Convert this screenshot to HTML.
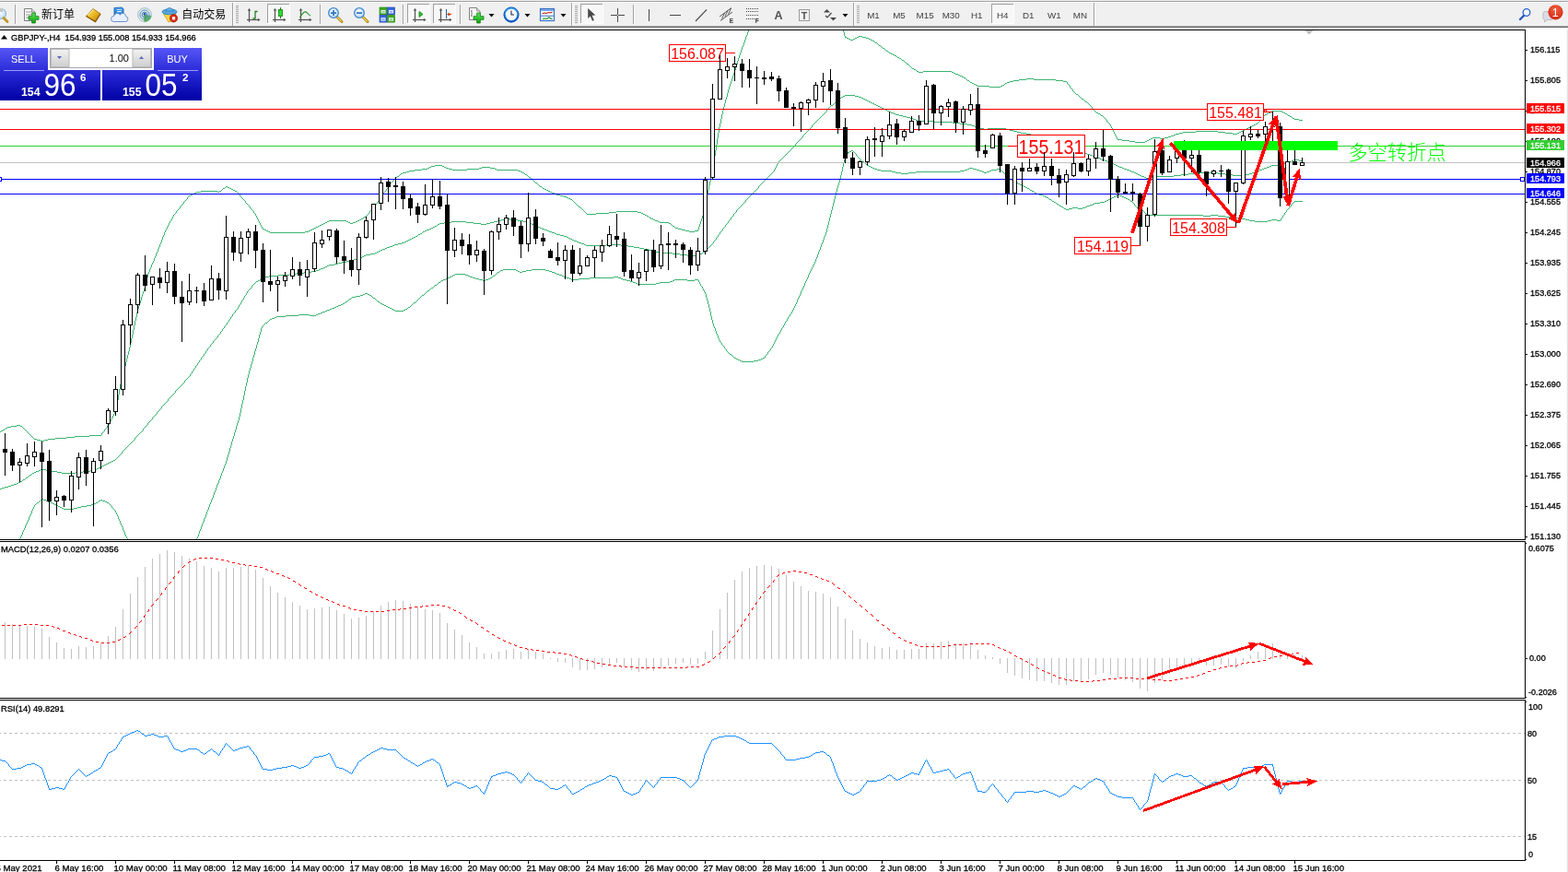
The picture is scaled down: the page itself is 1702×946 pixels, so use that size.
<!DOCTYPE html>
<html lang="zh-CN">
<head>
<meta charset="utf-8">
<title>GBPJPY-,H4</title>
<style>
html,body{margin:0;padding:0;background:#fff;}
body{width:1702px;height:946px;overflow:hidden;position:relative;font-family:"Liberation Sans", "Noto Sans CJK SC", sans-serif;}
svg{position:absolute;left:0;top:0;display:block;}
svg text{font-family:"Liberation Sans", "Noto Sans CJK SC", sans-serif;}
</style>
</head>
<body>
<svg width="1702" height="946" viewBox="0 0 1702 946">
<rect x="0" y="0" width="1702" height="946" fill="#ffffff"/>
<g id="main">
<clipPath id="cm"><rect x="0" y="33" width="1655" height="552"/></clipPath>
<g clip-path="url(#cm)">
<path d="M932 39h4v1h-4zM917 40h2v1h-2zM930 40h2v1h-2zM936 40h4v1h-4zM919 41h2v1h-2zM928 41h2v1h-2zM940 41h3v1h-3zM921 42h2v1h-2zM926 42h2v1h-2zM943 42h2v1h-2zM923 43h3v1h-3zM945 43h2v1h-2zM947 44h2v1h-2zM950 46h2v1h-2zM954 49h2v1h-2zM958 52h2v1h-2zM962 55h2v1h-2zM965 57h2v1h-2zM967 58h2v1h-2zM969 59h2v1h-2zM971 60h2v1h-2zM974 62h2v1h-2zM976 63h2v1h-2zM979 65h2v1h-2zM984 69h2v1h-2zM990 74h2v1h-2zM992 75h2v1h-2zM995 77h2v1h-2zM1002 77h31v1h-31zM997 78h5v1h-5zM1033 78h2v1h-2zM1035 79h2v1h-2zM1037 80h3v1h-3zM1040 81h2v1h-2zM1042 82h2v1h-2zM1044 83h2v1h-2zM1046 84h2v1h-2zM1114 85h8v1h-8zM1106 86h8v1h-8zM1122 86h24v1h-24zM1050 87h2v1h-2zM1100 87h6v1h-6zM1146 87h8v1h-8zM1096 88h4v1h-4zM1154 88h4v1h-4zM1053 89h2v1h-2zM1093 89h3v1h-3zM1055 90h2v1h-2zM1091 90h2v1h-2zM1057 91h2v1h-2zM1059 92h2v1h-2zM1088 92h2v1h-2zM1061 93h13v1h-13zM1086 93h2v1h-2zM1074 94h12v1h-12zM1168 102h2v1h-2zM1174 107h2v1h-2zM1178 110h2v1h-2zM1381 120h10v1h-10zM1379 121h2v1h-2zM1391 121h2v1h-2zM1190 122h2v1h-2zM1377 122h2v1h-2zM1393 122h2v1h-2zM1192 123h2v1h-2zM1375 123h2v1h-2zM1395 123h2v1h-2zM1373 124h2v1h-2zM1195 125h2v1h-2zM1398 125h2v1h-2zM1400 126h2v1h-2zM1403 128h2v1h-2zM1405 129h5v1h-5zM1410 130h4v1h-4zM1363 134h2v1h-2zM1361 135h2v1h-2zM1359 136h2v1h-2zM1357 137h2v1h-2zM1355 138h2v1h-2zM1353 139h2v1h-2zM1351 140h2v1h-2zM1349 141h2v1h-2zM1298 142h24v1h-24zM1347 142h2v1h-2zM1284 143h14v1h-14zM1322 143h8v1h-8zM1345 143h2v1h-2zM1280 144h4v1h-4zM1330 144h8v1h-8zM1343 144h2v1h-2zM1276 145h4v1h-4zM1338 145h5v1h-5zM1274 146h2v1h-2zM1271 147h3v1h-3zM1268 148h3v1h-3zM1251 149h8v1h-8zM1264 149h4v1h-4zM1249 150h2v1h-2zM1259 150h5v1h-5zM1213 151h5v1h-5zM1247 151h2v1h-2zM1218 152h8v1h-8zM1245 152h2v1h-2zM1226 153h6v1h-6zM1243 153h2v1h-2zM1232 154h11v1h-11zM472 179h8v1h-8zM468 180h4v1h-4zM480 180h2v1h-2zM466 181h2v1h-2zM482 181h2v1h-2zM523 181h9v1h-9zM464 182h2v1h-2zM484 182h3v1h-3zM520 182h3v1h-3zM532 182h5v1h-5zM458 183h6v1h-6zM487 183h4v1h-4zM507 183h13v1h-13zM537 183h2v1h-2zM450 184h8v1h-8zM491 184h16v1h-16zM539 184h23v1h-23zM444 185h6v1h-6zM562 185h3v1h-3zM441 186h3v1h-3zM565 186h2v1h-2zM437 187h4v1h-4zM567 187h2v1h-2zM435 188h2v1h-2zM570 189h2v1h-2zM431 191h2v1h-2zM574 192h2v1h-2zM581 198h2v1h-2zM245 202h2v1h-2zM586 202h2v1h-2zM247 203h2v1h-2zM242 204h2v1h-2zM249 204h2v1h-2zM589 204h2v1h-2zM251 205h2v1h-2zM591 205h2v1h-2zM253 206h2v1h-2zM593 206h2v1h-2zM218 207h18v1h-18zM238 207h2v1h-2zM255 207h2v1h-2zM595 207h2v1h-2zM213 208h5v1h-5zM236 208h2v1h-2zM597 208h2v1h-2zM211 209h2v1h-2zM599 209h3v1h-3zM209 210h2v1h-2zM602 210h2v1h-2zM207 211h2v1h-2zM604 211h4v1h-4zM205 212h2v1h-2zM608 212h4v1h-4zM612 213h3v1h-3zM615 214h2v1h-2zM617 215h2v1h-2zM619 216h2v1h-2zM628 224h2v1h-2zM669 229h23v1h-23zM661 230h8v1h-8zM692 230h4v1h-4zM647 231h14v1h-14zM696 231h2v1h-2zM637 232h10v1h-10zM698 232h2v1h-2zM700 233h2v1h-2zM702 234h2v1h-2zM395 235h2v1h-2zM705 236h2v1h-2zM392 237h2v1h-2zM707 237h2v1h-2zM390 238h2v1h-2zM709 238h2v1h-2zM357 239h19v1h-19zM388 239h2v1h-2zM711 239h3v1h-3zM355 240h2v1h-2zM376 240h2v1h-2zM386 240h2v1h-2zM714 240h2v1h-2zM353 241h2v1h-2zM378 241h2v1h-2zM383 241h3v1h-3zM716 241h10v1h-10zM351 242h2v1h-2zM380 242h3v1h-3zM726 242h2v1h-2zM349 243h2v1h-2zM347 244h2v1h-2zM345 245h2v1h-2zM730 245h2v1h-2zM343 246h2v1h-2zM341 247h2v1h-2zM733 247h3v1h-3zM285 248h2v1h-2zM339 248h2v1h-2zM736 248h4v1h-4zM287 249h2v1h-2zM337 249h2v1h-2zM740 249h4v1h-4zM289 250h2v1h-2zM335 250h2v1h-2zM744 250h4v1h-4zM754 250h4v1h-4zM291 251h2v1h-2zM331 251h4v1h-4zM748 251h6v1h-6zM293 252h38v1h-38zM18 461h4v1h-4zM12 462h6v1h-6zM22 462h2v1h-2zM8 463h4v1h-4zM6 464h2v1h-2zM3 466h2v1h-2zM1 467h2v1h-2zM97 472h13v1h-13zM81 473h16v1h-16zM72 474h9v1h-9zM60 475h12v1h-12zM37 476h3v1h-3zM52 476h8v1h-8zM40 477h4v1h-4zM48 477h4v1h-4zM44 478h4v1h-4zM0 468v1h1v-1zM5 465v1h1v-1zM24 463v1h1v-1zM25 464v1h1v-1zM26 465v1h1v-1zM27 466v1h1v-1zM28 467v1h1v-1zM29 468v1h1v-1zM30 469v1h1v-1zM31 470v1h1v-1zM32 471v1h1v-1zM33 472v1h1v-1zM34 473v1h1v-1zM35 474v1h1v-1zM36 475v1h1v-1zM110 470v2h1v-2zM111 469v1h1v-1zM112 468v1h1v-1zM113 466v2h1v-2zM114 465v1h1v-1zM115 464v1h1v-1zM116 462v2h1v-2zM117 461v1h1v-1zM118 459v2h1v-2zM119 457v2h1v-2zM120 455v2h1v-2zM121 453v2h1v-2zM122 451v2h1v-2zM123 449v2h1v-2zM124 447v2h1v-2zM125 444v3h1v-3zM126 439v5h1v-5zM127 434v5h1v-5zM128 428v6h1v-6zM129 422v6h1v-6zM130 417v5h1v-5zM131 413v4h1v-4zM132 409v4h1v-4zM133 405v4h1v-4zM134 401v4h1v-4zM135 397v4h1v-4zM136 393v4h1v-4zM137 389v4h1v-4zM138 385v4h1v-4zM139 381v4h1v-4zM140 377v4h1v-4zM141 372v5h1v-5zM142 367v5h1v-5zM143 363v4h1v-4zM144 358v5h1v-5zM145 353v5h1v-5zM146 348v5h1v-5zM147 344v4h1v-4zM148 339v5h1v-5zM149 335v4h1v-4zM150 332v3h1v-3zM151 329v3h1v-3zM152 326v3h1v-3zM153 322v4h1v-4zM154 319v3h1v-3zM155 316v3h1v-3zM156 313v3h1v-3zM157 309v4h1v-4zM158 305v4h1v-4zM159 301v4h1v-4zM160 297v4h1v-4zM161 295v2h1v-2zM162 292v3h1v-3zM163 290v2h1v-2zM164 287v3h1v-3zM165 285v2h1v-2zM166 283v2h1v-2zM167 280v3h1v-3zM168 278v2h1v-2zM169 275v3h1v-3zM170 273v2h1v-2zM171 270v3h1v-3zM172 268v2h1v-2zM173 265v3h1v-3zM174 263v2h1v-2zM175 260v3h1v-3zM176 257v3h1v-3zM177 255v2h1v-2zM178 252v3h1v-3zM179 250v2h1v-2zM180 248v2h1v-2zM181 246v2h1v-2zM182 244v2h1v-2zM183 242v2h1v-2zM184 240v2h1v-2zM185 239v1h1v-1zM186 237v2h1v-2zM187 235v2h1v-2zM188 233v2h1v-2zM189 232v1h1v-1zM190 231v1h1v-1zM191 229v2h1v-2zM192 228v1h1v-1zM193 227v1h1v-1zM194 226v1h1v-1zM195 224v2h1v-2zM196 223v1h1v-1zM197 222v1h1v-1zM198 221v1h1v-1zM199 219v2h1v-2zM200 218v1h1v-1zM201 217v1h1v-1zM202 216v1h1v-1zM203 214v2h1v-2zM204 213v1h1v-1zM240 206v1h1v-1zM241 205v1h1v-1zM244 203v1h1v-1zM257 208v1h1v-1zM258 209v1h1v-1zM259 210v1h1v-1zM260 211v2h1v-2zM261 213v1h1v-1zM262 214v1h1v-1zM263 215v1h1v-1zM264 216v1h1v-1zM265 217v1h1v-1zM266 218v2h1v-2zM267 220v1h1v-1zM268 221v1h1v-1zM269 222v1h1v-1zM270 223v1h1v-1zM271 224v2h1v-2zM272 226v1h1v-1zM273 227v1h1v-1zM274 228v1h1v-1zM275 229v2h1v-2zM276 231v1h1v-1zM277 232v2h1v-2zM278 234v2h1v-2zM279 236v2h1v-2zM280 238v2h1v-2zM281 240v2h1v-2zM282 242v2h1v-2zM283 244v2h1v-2zM284 246v2h1v-2zM394 236v1h1v-1zM397 234v1h1v-1zM398 233v1h1v-1zM399 232v1h1v-1zM400 231v1h1v-1zM401 229v2h1v-2zM402 228v1h1v-1zM403 227v1h1v-1zM404 226v1h1v-1zM405 225v1h1v-1zM406 223v2h1v-2zM407 222v1h1v-1zM408 221v1h1v-1zM409 219v2h1v-2zM410 218v1h1v-1zM411 217v1h1v-1zM412 215v2h1v-2zM413 214v1h1v-1zM414 212v2h1v-2zM415 211v1h1v-1zM416 209v2h1v-2zM417 208v1h1v-1zM418 207v1h1v-1zM419 205v2h1v-2zM420 204v1h1v-1zM421 202v2h1v-2zM422 201v1h1v-1zM423 199v2h1v-2zM424 198v1h1v-1zM425 197v1h1v-1zM426 196v1h1v-1zM427 195v1h1v-1zM428 194v1h1v-1zM429 193v1h1v-1zM430 192v1h1v-1zM433 190v1h1v-1zM434 189v1h1v-1zM569 188v1h1v-1zM572 190v1h1v-1zM573 191v1h1v-1zM576 193v1h1v-1zM577 194v1h1v-1zM578 195v1h1v-1zM579 196v1h1v-1zM580 197v1h1v-1zM583 199v1h1v-1zM584 200v1h1v-1zM585 201v1h1v-1zM588 203v1h1v-1zM621 217v1h1v-1zM622 218v1h1v-1zM623 219v1h1v-1zM624 220v1h1v-1zM625 221v1h1v-1zM626 222v1h1v-1zM627 223v1h1v-1zM630 225v1h1v-1zM631 226v1h1v-1zM632 227v1h1v-1zM633 228v1h1v-1zM634 229v1h1v-1zM635 230v1h1v-1zM636 231v1h1v-1zM704 235v1h1v-1zM728 243v1h1v-1zM729 244v1h1v-1zM732 246v1h1v-1zM757 249v1h1v-1zM758 246v3h1v-3zM759 243v3h1v-3zM760 240v3h1v-3zM761 237v3h1v-3zM762 234v3h1v-3zM763 230v4h1v-4zM764 227v3h1v-3zM765 223v4h1v-4zM766 217v6h1v-6zM767 211v6h1v-6zM768 206v5h1v-5zM769 201v5h1v-5zM770 197v4h1v-4zM771 192v5h1v-5zM772 186v6h1v-6zM773 180v6h1v-6zM774 175v5h1v-5zM775 169v6h1v-6zM776 163v6h1v-6zM777 157v6h1v-6zM778 150v7h1v-7zM779 144v6h1v-6zM780 138v6h1v-6zM781 134v4h1v-4zM782 129v5h1v-5zM783 124v5h1v-5zM784 120v4h1v-4zM785 116v4h1v-4zM786 112v4h1v-4zM787 108v4h1v-4zM788 105v3h1v-3zM789 101v4h1v-4zM790 97v4h1v-4zM791 94v3h1v-3zM792 91v3h1v-3zM793 88v3h1v-3zM794 85v3h1v-3zM795 82v3h1v-3zM796 79v3h1v-3zM797 76v3h1v-3zM798 73v3h1v-3zM799 70v3h1v-3zM800 66v4h1v-4zM801 63v3h1v-3zM802 60v3h1v-3zM803 57v3h1v-3zM804 54v3h1v-3zM805 51v3h1v-3zM806 49v2h1v-2zM807 46v3h1v-3zM808 43v3h1v-3zM809 40v3h1v-3zM810 38v2h1v-2zM811 35v3h1v-3zM812 33v2h1v-2zM915 33v2h1v-2zM916 35v4h1v-4zM917 39v1h1v-1zM949 45v1h1v-1zM952 47v1h1v-1zM953 48v1h1v-1zM956 50v1h1v-1zM957 51v1h1v-1zM960 53v1h1v-1zM961 54v1h1v-1zM964 56v1h1v-1zM973 61v1h1v-1zM978 64v1h1v-1zM981 66v1h1v-1zM982 67v1h1v-1zM983 68v1h1v-1zM986 70v1h1v-1zM987 71v1h1v-1zM988 72v1h1v-1zM989 73v1h1v-1zM994 76v1h1v-1zM1048 85v1h1v-1zM1049 86v1h1v-1zM1052 88v1h1v-1zM1090 91v1h1v-1zM1158 89v2h1v-2zM1159 91v1h1v-1zM1160 92v1h1v-1zM1161 93v2h1v-2zM1162 95v1h1v-1zM1163 96v1h1v-1zM1164 97v2h1v-2zM1165 99v1h1v-1zM1166 100v1h1v-1zM1167 101v1h1v-1zM1170 103v1h1v-1zM1171 104v1h1v-1zM1172 105v1h1v-1zM1173 106v1h1v-1zM1176 108v1h1v-1zM1177 109v1h1v-1zM1180 111v1h1v-1zM1181 112v1h1v-1zM1182 113v1h1v-1zM1183 114v1h1v-1zM1184 115v1h1v-1zM1185 116v2h1v-2zM1186 118v1h1v-1zM1187 119v1h1v-1zM1188 120v1h1v-1zM1189 121v1h1v-1zM1194 124v1h1v-1zM1197 126v1h1v-1zM1198 127v1h1v-1zM1199 128v1h1v-1zM1200 129v1h1v-1zM1201 130v2h1v-2zM1202 132v1h1v-1zM1203 133v1h1v-1zM1204 134v1h1v-1zM1205 135v2h1v-2zM1206 137v2h1v-2zM1207 139v2h1v-2zM1208 141v2h1v-2zM1209 143v2h1v-2zM1210 145v2h1v-2zM1211 147v2h1v-2zM1212 149v2h1v-2zM1365 133v1h1v-1zM1366 132v1h1v-1zM1367 131v1h1v-1zM1368 130v1h1v-1zM1369 128v2h1v-2zM1370 127v1h1v-1zM1371 126v1h1v-1zM1372 125v1h1v-1zM1397 124v1h1v-1zM1402 127v1h1v-1z" fill="#3cb371" shape-rendering="crispEdges"/>
<path d="M917 103h11v1h-11zM915 104h2v1h-2zM928 104h4v1h-4zM913 105h2v1h-2zM932 105h3v1h-3zM935 106h2v1h-2zM937 107h2v1h-2zM939 108h2v1h-2zM941 109h2v1h-2zM943 110h2v1h-2zM906 111h2v1h-2zM945 111h2v1h-2zM947 112h2v1h-2zM949 113h2v1h-2zM902 114h2v1h-2zM951 114h2v1h-2zM953 115h2v1h-2zM955 116h2v1h-2zM957 117h2v1h-2zM959 118h2v1h-2zM961 119h2v1h-2zM963 120h2v1h-2zM965 121h2v1h-2zM967 122h3v1h-3zM970 123h2v1h-2zM972 124h4v1h-4zM976 125h4v1h-4zM980 126h4v1h-4zM984 127h4v1h-4zM988 128h3v1h-3zM991 129h3v1h-3zM994 130h2v1h-2zM996 131h18v1h-18zM1014 132h20v1h-20zM1034 133h8v1h-8zM1042 134h8v1h-8zM1050 135h5v1h-5zM1055 136h3v1h-3zM1058 137h2v1h-2zM1060 138h4v1h-4zM1064 139h4v1h-4zM1072 139h20v1h-20zM1068 140h4v1h-4zM1092 140h4v1h-4zM1096 141h4v1h-4zM1100 142h4v1h-4zM1104 143h4v1h-4zM1108 144h6v1h-6zM1114 145h5v1h-5zM1119 146h3v1h-3zM1122 147h2v1h-2zM1124 148h3v1h-3zM1127 149h3v1h-3zM1130 150h2v1h-2zM1132 151h3v1h-3zM1135 152h3v1h-3zM1138 153h2v1h-2zM1140 154h3v1h-3zM1143 155h3v1h-3zM1146 156h2v1h-2zM1148 157h3v1h-3zM1151 158h3v1h-3zM1154 159h2v1h-2zM1156 160h3v1h-3zM1159 161h3v1h-3zM1162 162h4v1h-4zM1166 163h3v1h-3zM1169 164h3v1h-3zM1172 165h4v1h-4zM1176 166h4v1h-4zM1180 167h3v1h-3zM1183 168h3v1h-3zM1186 169h2v1h-2zM1188 170h3v1h-3zM1191 171h3v1h-3zM1194 172h2v1h-2zM1196 173h3v1h-3zM1404 173h6v1h-6zM1199 174h3v1h-3zM1402 174h2v1h-2zM1410 174h4v1h-4zM1202 175h2v1h-2zM1399 175h3v1h-3zM1204 176h3v1h-3zM1396 176h3v1h-3zM1207 177h2v1h-2zM1394 177h2v1h-2zM1209 178h2v1h-2zM1391 178h3v1h-3zM1211 179h2v1h-2zM1380 179h11v1h-11zM1213 180h2v1h-2zM1378 180h2v1h-2zM1215 181h3v1h-3zM1375 181h3v1h-3zM1218 182h2v1h-2zM1372 182h3v1h-3zM1220 183h3v1h-3zM1370 183h2v1h-2zM1223 184h3v1h-3zM1367 184h3v1h-3zM1226 185h2v1h-2zM1364 185h3v1h-3zM1228 186h3v1h-3zM1362 186h2v1h-2zM1231 187h2v1h-2zM1298 187h24v1h-24zM1359 187h3v1h-3zM1233 188h2v1h-2zM1290 188h8v1h-8zM1322 188h8v1h-8zM1356 188h3v1h-3zM1235 189h2v1h-2zM1282 189h8v1h-8zM1330 189h8v1h-8zM1352 189h4v1h-4zM1237 190h2v1h-2zM1274 190h8v1h-8zM1338 190h14v1h-14zM1239 191h3v1h-3zM1252 191h22v1h-22zM1242 192h2v1h-2zM1248 192h4v1h-4zM1244 193h4v1h-4zM548 237h6v1h-6zM544 238h4v1h-4zM554 238h8v1h-8zM540 239h4v1h-4zM562 239h6v1h-6zM490 240h16v1h-16zM536 240h4v1h-4zM568 240h4v1h-4zM482 241h8v1h-8zM506 241h8v1h-8zM532 241h4v1h-4zM572 241h3v1h-3zM477 242h5v1h-5zM514 242h8v1h-8zM528 242h4v1h-4zM575 242h2v1h-2zM475 243h2v1h-2zM522 243h6v1h-6zM577 243h2v1h-2zM579 244h2v1h-2zM472 245h2v1h-2zM581 245h2v1h-2zM470 246h2v1h-2zM583 246h3v1h-3zM468 247h2v1h-2zM586 247h2v1h-2zM466 248h2v1h-2zM588 248h3v1h-3zM463 249h3v1h-3zM591 249h3v1h-3zM461 250h2v1h-2zM594 250h2v1h-2zM459 251h2v1h-2zM596 251h3v1h-3zM599 252h3v1h-3zM456 253h2v1h-2zM602 253h2v1h-2zM454 254h2v1h-2zM604 254h4v1h-4zM608 255h4v1h-4zM451 256h2v1h-2zM612 256h3v1h-3zM449 257h2v1h-2zM615 257h2v1h-2zM447 258h2v1h-2zM617 258h2v1h-2zM445 259h2v1h-2zM619 259h2v1h-2zM443 260h2v1h-2zM621 260h2v1h-2zM441 261h2v1h-2zM623 261h3v1h-3zM439 262h2v1h-2zM626 262h2v1h-2zM436 263h3v1h-3zM628 263h3v1h-3zM432 264h4v1h-4zM631 264h3v1h-3zM428 265h4v1h-4zM634 265h2v1h-2zM658 265h16v1h-16zM426 266h2v1h-2zM636 266h22v1h-22zM674 266h8v1h-8zM423 267h3v1h-3zM682 267h6v1h-6zM420 268h3v1h-3zM688 268h6v1h-6zM418 269h2v1h-2zM694 269h5v1h-5zM415 270h3v1h-3zM699 270h5v1h-5zM413 271h2v1h-2zM704 271h4v1h-4zM411 272h2v1h-2zM708 272h4v1h-4zM409 273h2v1h-2zM712 273h4v1h-4zM763 273h2v1h-2zM407 274h2v1h-2zM716 274h14v1h-14zM402 275h5v1h-5zM730 275h8v1h-8zM760 275h2v1h-2zM397 276h5v1h-5zM738 276h8v1h-8zM758 276h2v1h-2zM395 277h2v1h-2zM746 277h12v1h-12zM393 278h2v1h-2zM391 279h2v1h-2zM388 280h3v1h-3zM384 281h4v1h-4zM380 282h4v1h-4zM376 283h4v1h-4zM371 284h5v1h-5zM367 285h4v1h-4zM363 286h4v1h-4zM357 287h6v1h-6zM355 288h2v1h-2zM353 289h2v1h-2zM351 290h2v1h-2zM348 291h3v1h-3zM346 292h2v1h-2zM343 293h3v1h-3zM338 294h5v1h-5zM330 295h8v1h-8zM322 296h8v1h-8zM314 297h8v1h-8zM302 298h12v1h-12zM292 299h10v1h-10zM288 300h4v1h-4zM285 301h3v1h-3zM283 302h2v1h-2zM280 304h2v1h-2zM278 305h2v1h-2zM123 499h2v1h-2zM121 500h2v1h-2zM119 501h2v1h-2zM117 502h2v1h-2zM115 503h2v1h-2zM113 504h2v1h-2zM111 505h2v1h-2zM109 506h2v1h-2zM107 507h2v1h-2zM105 508h2v1h-2zM44 509h6v1h-6zM103 509h2v1h-2zM42 510h2v1h-2zM50 510h6v1h-6zM98 510h5v1h-5zM39 511h3v1h-3zM56 511h6v1h-6zM90 511h8v1h-8zM37 512h2v1h-2zM62 512h5v1h-5zM82 512h8v1h-8zM35 513h2v1h-2zM67 513h15v1h-15zM32 515h2v1h-2zM28 518h2v1h-2zM25 520h2v1h-2zM22 522h2v1h-2zM20 523h2v1h-2zM18 524h2v1h-2zM15 525h3v1h-3zM12 526h3v1h-3zM9 527h3v1h-3zM5 528h4v1h-4zM2 529h3v1h-3zM0 530h2v1h-2zM24 521v1h1v-1zM27 519v1h1v-1zM30 517v1h1v-1zM31 516v1h1v-1zM34 514v1h1v-1zM125 498v1h1v-1zM126 497v1h1v-1zM127 496v1h1v-1zM128 495v1h1v-1zM129 494v1h1v-1zM130 493v1h1v-1zM131 492v1h1v-1zM132 490v2h1v-2zM133 489v1h1v-1zM134 488v1h1v-1zM135 487v1h1v-1zM136 486v1h1v-1zM137 485v1h1v-1zM138 484v1h1v-1zM139 483v1h1v-1zM140 482v1h1v-1zM141 481v1h1v-1zM142 480v1h1v-1zM143 479v1h1v-1zM144 478v1h1v-1zM145 477v1h1v-1zM146 475v2h1v-2zM147 474v1h1v-1zM148 473v1h1v-1zM149 472v1h1v-1zM150 471v1h1v-1zM151 470v1h1v-1zM152 469v1h1v-1zM153 468v1h1v-1zM154 467v1h1v-1zM155 465v2h1v-2zM156 464v1h1v-1zM157 463v1h1v-1zM158 462v1h1v-1zM159 461v1h1v-1zM160 459v2h1v-2zM161 458v1h1v-1zM162 457v1h1v-1zM163 456v1h1v-1zM164 455v1h1v-1zM165 453v2h1v-2zM166 452v1h1v-1zM167 451v1h1v-1zM168 450v1h1v-1zM169 449v1h1v-1zM170 447v2h1v-2zM171 446v1h1v-1zM172 445v1h1v-1zM173 444v1h1v-1zM174 443v1h1v-1zM175 441v2h1v-2zM176 440v1h1v-1zM177 439v1h1v-1zM178 438v1h1v-1zM179 437v1h1v-1zM180 436v1h1v-1zM181 435v1h1v-1zM182 433v2h1v-2zM183 432v1h1v-1zM184 431v1h1v-1zM185 430v1h1v-1zM186 429v1h1v-1zM187 428v1h1v-1zM188 427v1h1v-1zM189 426v1h1v-1zM190 424v2h1v-2zM191 423v1h1v-1zM192 422v1h1v-1zM193 421v1h1v-1zM194 420v1h1v-1zM195 419v1h1v-1zM196 418v1h1v-1zM197 417v1h1v-1zM198 416v1h1v-1zM199 415v1h1v-1zM200 413v2h1v-2zM201 412v1h1v-1zM202 411v1h1v-1zM203 410v1h1v-1zM204 409v1h1v-1zM205 408v1h1v-1zM206 406v2h1v-2zM207 405v1h1v-1zM208 403v2h1v-2zM209 402v1h1v-1zM210 400v2h1v-2zM211 399v1h1v-1zM212 397v2h1v-2zM213 396v1h1v-1zM214 394v2h1v-2zM215 393v1h1v-1zM216 391v2h1v-2zM217 390v1h1v-1zM218 388v2h1v-2zM219 387v1h1v-1zM220 386v1h1v-1zM221 384v2h1v-2zM222 383v1h1v-1zM223 381v2h1v-2zM224 380v1h1v-1zM225 378v2h1v-2zM226 377v1h1v-1zM227 376v1h1v-1zM228 374v2h1v-2zM229 373v1h1v-1zM230 372v1h1v-1zM231 370v2h1v-2zM232 369v1h1v-1zM233 368v1h1v-1zM234 367v1h1v-1zM235 366v1h1v-1zM236 364v2h1v-2zM237 363v1h1v-1zM238 362v1h1v-1zM239 360v2h1v-2zM240 359v1h1v-1zM241 357v2h1v-2zM242 356v1h1v-1zM243 354v2h1v-2zM244 353v1h1v-1zM245 352v1h1v-1zM246 350v2h1v-2zM247 349v1h1v-1zM248 347v2h1v-2zM249 346v1h1v-1zM250 344v2h1v-2zM251 343v1h1v-1zM252 341v2h1v-2zM253 340v1h1v-1zM254 339v1h1v-1zM255 337v2h1v-2zM256 336v1h1v-1zM257 335v1h1v-1zM258 333v2h1v-2zM259 331v2h1v-2zM260 330v1h1v-1zM261 328v2h1v-2zM262 326v2h1v-2zM263 325v1h1v-1zM264 323v2h1v-2zM265 321v2h1v-2zM266 320v1h1v-1zM267 318v2h1v-2zM268 316v2h1v-2zM269 315v1h1v-1zM270 314v1h1v-1zM271 313v1h1v-1zM272 312v1h1v-1zM273 310v2h1v-2zM274 309v1h1v-1zM275 308v1h1v-1zM276 307v1h1v-1zM277 306v1h1v-1zM282 303v1h1v-1zM453 255v1h1v-1zM458 252v1h1v-1zM474 244v1h1v-1zM762 274v1h1v-1zM765 272v1h1v-1zM766 271v1h1v-1zM767 270v1h1v-1zM768 269v1h1v-1zM769 268v1h1v-1zM770 267v1h1v-1zM771 266v1h1v-1zM772 265v1h1v-1zM773 264v1h1v-1zM774 262v2h1v-2zM775 261v1h1v-1zM776 260v1h1v-1zM777 258v2h1v-2zM778 257v1h1v-1zM779 255v2h1v-2zM780 254v1h1v-1zM781 252v2h1v-2zM782 251v1h1v-1zM783 250v1h1v-1zM784 248v2h1v-2zM785 247v1h1v-1zM786 246v1h1v-1zM787 244v2h1v-2zM788 243v1h1v-1zM789 242v1h1v-1zM790 240v2h1v-2zM791 239v1h1v-1zM792 238v1h1v-1zM793 236v2h1v-2zM794 235v1h1v-1zM795 234v1h1v-1zM796 232v2h1v-2zM797 231v1h1v-1zM798 230v1h1v-1zM799 228v2h1v-2zM800 227v1h1v-1zM801 226v1h1v-1zM802 225v1h1v-1zM803 224v1h1v-1zM804 223v1h1v-1zM805 222v1h1v-1zM806 221v1h1v-1zM807 220v1h1v-1zM808 219v1h1v-1zM809 217v2h1v-2zM810 216v1h1v-1zM811 215v1h1v-1zM812 214v1h1v-1zM813 213v1h1v-1zM814 212v1h1v-1zM815 211v1h1v-1zM816 210v1h1v-1zM817 209v1h1v-1zM818 208v1h1v-1zM819 207v1h1v-1zM820 206v1h1v-1zM821 205v1h1v-1zM822 204v1h1v-1zM823 202v2h1v-2zM824 201v1h1v-1zM825 200v1h1v-1zM826 199v1h1v-1zM827 198v1h1v-1zM828 197v1h1v-1zM829 196v1h1v-1zM830 195v1h1v-1zM831 194v1h1v-1zM832 193v1h1v-1zM833 192v1h1v-1zM834 191v1h1v-1zM835 190v1h1v-1zM836 189v1h1v-1zM837 188v1h1v-1zM838 187v1h1v-1zM839 186v1h1v-1zM840 184v2h1v-2zM841 182v2h1v-2zM842 180v2h1v-2zM843 178v2h1v-2zM844 176v2h1v-2zM845 175v1h1v-1zM846 174v1h1v-1zM847 173v1h1v-1zM848 172v1h1v-1zM849 171v1h1v-1zM850 170v1h1v-1zM851 169v1h1v-1zM852 168v1h1v-1zM853 167v1h1v-1zM854 166v1h1v-1zM855 165v1h1v-1zM856 164v1h1v-1zM857 163v1h1v-1zM858 162v1h1v-1zM859 161v1h1v-1zM860 160v1h1v-1zM861 159v1h1v-1zM862 158v1h1v-1zM863 156v2h1v-2zM864 155v1h1v-1zM865 154v1h1v-1zM866 153v1h1v-1zM867 152v1h1v-1zM868 151v1h1v-1zM869 150v1h1v-1zM870 149v1h1v-1zM871 147v2h1v-2zM872 146v1h1v-1zM873 145v1h1v-1zM874 144v1h1v-1zM875 143v1h1v-1zM876 142v1h1v-1zM877 141v1h1v-1zM878 140v1h1v-1zM879 139v1h1v-1zM880 138v1h1v-1zM881 136v2h1v-2zM882 135v1h1v-1zM883 134v1h1v-1zM884 133v1h1v-1zM885 132v1h1v-1zM886 131v1h1v-1zM887 130v1h1v-1zM888 129v1h1v-1zM889 128v1h1v-1zM890 127v1h1v-1zM891 126v1h1v-1zM892 125v1h1v-1zM893 124v1h1v-1zM894 123v1h1v-1zM895 122v1h1v-1zM896 121v1h1v-1zM897 119v2h1v-2zM898 118v1h1v-1zM899 117v1h1v-1zM900 116v1h1v-1zM901 115v1h1v-1zM904 113v1h1v-1zM905 112v1h1v-1zM908 110v1h1v-1zM909 109v1h1v-1zM910 108v1h1v-1zM911 107v1h1v-1zM912 106v1h1v-1z" fill="#3cb371" shape-rendering="crispEdges"/>
<path d="M924 163h2v1h-2zM922 164h2v1h-2zM920 165h2v1h-2zM936 175h2v1h-2zM941 179h2v1h-2zM943 180h2v1h-2zM945 181h2v1h-2zM947 182h2v1h-2zM1052 182h4v1h-4zM949 183h3v1h-3zM1050 183h2v1h-2zM1056 183h4v1h-4zM1082 183h4v1h-4zM952 184h4v1h-4zM1047 184h3v1h-3zM1060 184h3v1h-3zM1076 184h6v1h-6zM956 185h12v1h-12zM1042 185h5v1h-5zM1063 185h3v1h-3zM1074 185h2v1h-2zM968 186h4v1h-4zM994 186h48v1h-48zM1066 186h2v1h-2zM1071 186h3v1h-3zM972 187h6v1h-6zM986 187h8v1h-8zM1068 187h3v1h-3zM978 188h8v1h-8zM1094 193h2v1h-2zM1096 194h2v1h-2zM1099 196h2v1h-2zM1101 197h2v1h-2zM1103 198h2v1h-2zM1105 199h2v1h-2zM1107 200h2v1h-2zM1109 201h2v1h-2zM1111 202h2v1h-2zM1113 203h2v1h-2zM1115 204h2v1h-2zM1118 206h2v1h-2zM1120 207h2v1h-2zM1123 209h2v1h-2zM1125 210h3v1h-3zM1128 211h4v1h-4zM1213 211h2v1h-2zM1132 212h2v1h-2zM1211 212h2v1h-2zM1215 212h3v1h-3zM1134 213h2v1h-2zM1209 213h2v1h-2zM1218 213h2v1h-2zM1136 214h2v1h-2zM1207 214h2v1h-2zM1220 214h2v1h-2zM1205 215h2v1h-2zM1222 215h2v1h-2zM1139 216h2v1h-2zM1203 216h2v1h-2zM1224 216h2v1h-2zM1201 217h2v1h-2zM1142 218h2v1h-2zM1199 218h2v1h-2zM1227 218h2v1h-2zM1405 218h9v1h-9zM1144 219h2v1h-2zM1194 219h5v1h-5zM1188 220h6v1h-6zM1147 221h2v1h-2zM1186 221h2v1h-2zM1183 222h3v1h-3zM1150 223h2v1h-2zM1180 223h3v1h-3zM1152 224h2v1h-2zM1178 224h2v1h-2zM1164 225h6v1h-6zM1175 225h3v1h-3zM1155 226h2v1h-2zM1160 226h4v1h-4zM1170 226h5v1h-5zM1235 226h2v1h-2zM1157 227h3v1h-3zM1237 227h2v1h-2zM1239 228h2v1h-2zM1245 233h61v1h-61zM1314 233h8v1h-8zM1306 234h8v1h-8zM1322 234h8v1h-8zM1330 235h8v1h-8zM1338 236h8v1h-8zM1346 237h6v1h-6zM1352 238h4v1h-4zM1380 238h6v1h-6zM1356 239h6v1h-6zM1376 239h4v1h-4zM1386 239h4v1h-4zM1362 240h14v1h-14zM546 292h14v1h-14zM577 292h15v1h-15zM543 293h3v1h-3zM560 293h2v1h-2zM571 293h6v1h-6zM592 293h4v1h-4zM562 294h2v1h-2zM567 294h4v1h-4zM596 294h3v1h-3zM540 295h2v1h-2zM564 295h3v1h-3zM599 295h3v1h-3zM602 296h2v1h-2zM494 297h11v1h-11zM604 297h3v1h-3zM492 298h2v1h-2zM505 298h3v1h-3zM607 298h3v1h-3zM490 299h2v1h-2zM508 299h2v1h-2zM535 299h2v1h-2zM610 299h2v1h-2zM488 300h2v1h-2zM510 300h3v1h-3zM612 300h3v1h-3zM666 300h5v1h-5zM486 301h2v1h-2zM513 301h3v1h-3zM532 301h2v1h-2zM615 301h3v1h-3zM640 301h26v1h-26zM671 301h3v1h-3zM484 302h2v1h-2zM516 302h4v1h-4zM530 302h2v1h-2zM618 302h2v1h-2zM628 302h12v1h-12zM674 302h2v1h-2zM481 303h3v1h-3zM520 303h4v1h-4zM527 303h3v1h-3zM620 303h8v1h-8zM676 303h4v1h-4zM732 303h14v1h-14zM754 303h4v1h-4zM479 304h2v1h-2zM524 304h3v1h-3zM680 304h4v1h-4zM730 304h2v1h-2zM746 304h8v1h-8zM684 305h3v1h-3zM727 305h3v1h-3zM476 306h2v1h-2zM687 306h3v1h-3zM716 306h11v1h-11zM690 307h2v1h-2zM712 307h4v1h-4zM692 308h20v1h-20zM472 309h2v1h-2zM468 312h2v1h-2zM464 315h2v1h-2zM396 318h3v1h-3zM394 319h2v1h-2zM399 319h2v1h-2zM391 320h3v1h-3zM401 320h2v1h-2zM458 320h2v1h-2zM386 321h5v1h-5zM382 322h4v1h-4zM405 323h2v1h-2zM379 324h2v1h-2zM375 327h2v1h-2zM410 327h2v1h-2zM449 328h2v1h-2zM372 329h2v1h-2zM413 329h2v1h-2zM370 330h2v1h-2zM415 330h2v1h-2zM367 331h3v1h-3zM417 331h2v1h-2zM365 332h2v1h-2zM419 332h2v1h-2zM363 333h2v1h-2zM421 333h2v1h-2zM443 333h2v1h-2zM360 334h3v1h-3zM423 334h2v1h-2zM358 335h2v1h-2zM425 335h2v1h-2zM440 335h2v1h-2zM355 336h3v1h-3zM427 336h2v1h-2zM438 336h2v1h-2zM353 337h2v1h-2zM429 337h9v1h-9zM350 338h3v1h-3zM348 339h2v1h-2zM345 340h3v1h-3zM324 341h12v1h-12zM343 341h2v1h-2zM310 342h14v1h-14zM336 342h7v1h-7zM300 343h10v1h-10zM298 344h2v1h-2zM295 345h3v1h-3zM293 346h2v1h-2zM288 350h2v1h-2zM792 384h2v1h-2zM797 388h2v1h-2zM828 388h2v1h-2zM799 389h2v1h-2zM826 389h2v1h-2zM801 390h2v1h-2zM823 390h3v1h-3zM803 391h2v1h-2zM818 391h5v1h-5zM805 392h13v1h-13zM45 541h2v1h-2zM47 542h3v1h-3zM109 542h2v1h-2zM50 543h2v1h-2zM107 543h2v1h-2zM111 543h3v1h-3zM52 544h3v1h-3zM114 544h2v1h-2zM40 545h2v1h-2zM55 545h2v1h-2zM104 545h2v1h-2zM116 545h2v1h-2zM57 546h2v1h-2zM102 546h2v1h-2zM59 547h2v1h-2zM99 547h3v1h-3zM61 548h2v1h-2zM94 548h5v1h-5zM63 549h2v1h-2zM88 549h6v1h-6zM65 550h2v1h-2zM84 550h4v1h-4zM67 551h2v1h-2zM80 551h4v1h-4zM69 552h11v1h-11zM21 584v1h1v-1zM22 582v2h1v-2zM23 580v2h1v-2zM24 577v3h1v-3zM25 575v2h1v-2zM26 573v2h1v-2zM27 570v3h1v-3zM28 568v2h1v-2zM29 566v2h1v-2zM30 564v2h1v-2zM31 561v3h1v-3zM32 559v2h1v-2zM33 557v2h1v-2zM34 554v3h1v-3zM35 552v2h1v-2zM36 550v2h1v-2zM37 548v2h1v-2zM38 547v1h1v-1zM39 546v1h1v-1zM42 544v1h1v-1zM43 543v1h1v-1zM44 542v1h1v-1zM106 544v1h1v-1zM118 546v1h1v-1zM119 547v1h1v-1zM120 548v1h1v-1zM121 549v2h1v-2zM122 551v1h1v-1zM123 552v1h1v-1zM124 553v1h1v-1zM125 554v2h1v-2zM126 556v2h1v-2zM127 558v2h1v-2zM128 560v3h1v-3zM129 563v2h1v-2zM130 565v3h1v-3zM131 568v2h1v-2zM132 570v2h1v-2zM133 572v3h1v-3zM134 575v2h1v-2zM135 577v3h1v-3zM136 580v2h1v-2zM137 582v2h1v-2zM138 584v1h1v-1zM213 584v1h1v-1zM214 582v2h1v-2zM215 579v3h1v-3zM216 576v3h1v-3zM217 574v2h1v-2zM218 571v3h1v-3zM219 568v3h1v-3zM220 566v2h1v-2zM221 563v3h1v-3zM222 561v2h1v-2zM223 558v3h1v-3zM224 555v3h1v-3zM225 553v2h1v-2zM226 550v3h1v-3zM227 547v3h1v-3zM228 545v2h1v-2zM229 542v3h1v-3zM230 540v2h1v-2zM231 537v3h1v-3zM232 534v3h1v-3zM233 532v2h1v-2zM234 529v3h1v-3zM235 526v3h1v-3zM236 524v2h1v-2zM237 521v3h1v-3zM238 519v2h1v-2zM239 516v3h1v-3zM240 513v3h1v-3zM241 511v2h1v-2zM242 508v3h1v-3zM243 505v3h1v-3zM244 503v2h1v-2zM245 500v3h1v-3zM246 496v4h1v-4zM247 493v3h1v-3zM248 490v3h1v-3zM249 486v4h1v-4zM250 483v3h1v-3zM251 479v4h1v-4zM252 476v3h1v-3zM253 473v3h1v-3zM254 469v4h1v-4zM255 466v3h1v-3zM256 462v4h1v-4zM257 459v3h1v-3zM258 456v3h1v-3zM259 452v4h1v-4zM260 448v4h1v-4zM261 443v5h1v-5zM262 438v5h1v-5zM263 434v4h1v-4zM264 429v5h1v-5zM265 424v5h1v-5zM266 419v5h1v-5zM267 415v4h1v-4zM268 410v5h1v-5zM269 406v4h1v-4zM270 402v4h1v-4zM271 399v3h1v-3zM272 395v4h1v-4zM273 392v3h1v-3zM274 388v4h1v-4zM275 385v3h1v-3zM276 381v4h1v-4zM277 378v3h1v-3zM278 374v4h1v-4zM279 371v3h1v-3zM280 367v4h1v-4zM281 363v4h1v-4zM282 360v3h1v-3zM283 356v4h1v-4zM284 354v2h1v-2zM285 353v1h1v-1zM286 352v1h1v-1zM287 351v1h1v-1zM290 349v1h1v-1zM291 348v1h1v-1zM292 347v1h1v-1zM374 328v1h1v-1zM377 326v1h1v-1zM378 325v1h1v-1zM381 323v1h1v-1zM403 321v1h1v-1zM404 322v1h1v-1zM407 324v1h1v-1zM408 325v1h1v-1zM409 326v1h1v-1zM412 328v1h1v-1zM442 334v1h1v-1zM445 332v1h1v-1zM446 331v1h1v-1zM447 330v1h1v-1zM448 329v1h1v-1zM451 327v1h1v-1zM452 326v1h1v-1zM453 325v1h1v-1zM454 324v1h1v-1zM455 323v1h1v-1zM456 322v1h1v-1zM457 321v1h1v-1zM460 319v1h1v-1zM461 318v1h1v-1zM462 317v1h1v-1zM463 316v1h1v-1zM466 314v1h1v-1zM467 313v1h1v-1zM470 311v1h1v-1zM471 310v1h1v-1zM474 308v1h1v-1zM475 307v1h1v-1zM478 305v1h1v-1zM534 300v1h1v-1zM537 298v1h1v-1zM538 297v1h1v-1zM539 296v1h1v-1zM542 294v1h1v-1zM758 304v2h1v-2zM759 306v2h1v-2zM760 308v2h1v-2zM761 310v1h1v-1zM762 311v2h1v-2zM763 313v2h1v-2zM764 315v2h1v-2zM765 317v2h1v-2zM766 319v4h1v-4zM767 323v3h1v-3zM768 326v4h1v-4zM769 330v4h1v-4zM770 334v4h1v-4zM771 338v5h1v-5zM772 343v4h1v-4zM773 347v4h1v-4zM774 351v3h1v-3zM775 354v2h1v-2zM776 356v3h1v-3zM777 359v3h1v-3zM778 362v2h1v-2zM779 364v3h1v-3zM780 367v2h1v-2zM781 369v2h1v-2zM782 371v1h1v-1zM783 372v2h1v-2zM784 374v1h1v-1zM785 375v1h1v-1zM786 376v2h1v-2zM787 378v1h1v-1zM788 379v2h1v-2zM789 381v1h1v-1zM790 382v1h1v-1zM791 383v1h1v-1zM794 385v1h1v-1zM795 386v1h1v-1zM796 387v1h1v-1zM830 386v2h1v-2zM831 385v1h1v-1zM832 384v1h1v-1zM833 382v2h1v-2zM834 381v1h1v-1zM835 380v1h1v-1zM836 378v2h1v-2zM837 377v1h1v-1zM838 375v2h1v-2zM839 373v2h1v-2zM840 371v2h1v-2zM841 369v2h1v-2zM842 367v2h1v-2zM843 365v2h1v-2zM844 363v2h1v-2zM845 362v1h1v-1zM846 360v2h1v-2zM847 358v2h1v-2zM848 356v2h1v-2zM849 355v1h1v-1zM850 353v2h1v-2zM851 351v2h1v-2zM852 349v2h1v-2zM853 348v1h1v-1zM854 346v2h1v-2zM855 344v2h1v-2zM856 343v1h1v-1zM857 341v2h1v-2zM858 340v1h1v-1zM859 338v2h1v-2zM860 336v2h1v-2zM861 334v2h1v-2zM862 332v2h1v-2zM863 330v2h1v-2zM864 328v2h1v-2zM865 325v3h1v-3zM866 323v2h1v-2zM867 321v2h1v-2zM868 319v2h1v-2zM869 316v3h1v-3zM870 314v2h1v-2zM871 312v2h1v-2zM872 310v2h1v-2zM873 307v3h1v-3zM874 305v2h1v-2zM875 303v2h1v-2zM876 301v2h1v-2zM877 298v3h1v-3zM878 296v2h1v-2zM879 294v2h1v-2zM880 292v2h1v-2zM881 290v2h1v-2zM882 288v2h1v-2zM883 286v2h1v-2zM884 284v2h1v-2zM885 281v3h1v-3zM886 279v2h1v-2zM887 276v3h1v-3zM888 273v3h1v-3zM889 271v2h1v-2zM890 268v3h1v-3zM891 265v3h1v-3zM892 263v2h1v-2zM893 260v3h1v-3zM894 257v3h1v-3zM895 255v2h1v-2zM896 252v3h1v-3zM897 248v4h1v-4zM898 244v4h1v-4zM899 240v4h1v-4zM900 236v4h1v-4zM901 232v4h1v-4zM902 228v4h1v-4zM903 224v4h1v-4zM904 220v4h1v-4zM905 216v4h1v-4zM906 212v4h1v-4zM907 208v4h1v-4zM908 204v4h1v-4zM909 201v3h1v-3zM910 198v3h1v-3zM911 194v4h1v-4zM912 190v4h1v-4zM913 186v4h1v-4zM914 181v5h1v-5zM915 177v4h1v-4zM916 173v4h1v-4zM917 171v2h1v-2zM918 169v2h1v-2zM919 167v2h1v-2zM920 166v1h1v-1zM926 164v1h1v-1zM927 165v1h1v-1zM928 166v1h1v-1zM929 167v2h1v-2zM930 169v1h1v-1zM931 170v1h1v-1zM932 171v1h1v-1zM933 172v1h1v-1zM934 173v1h1v-1zM935 174v1h1v-1zM938 176v1h1v-1zM939 177v1h1v-1zM940 178v1h1v-1zM1086 184v1h1v-1zM1087 185v1h1v-1zM1088 186v1h1v-1zM1089 187v1h1v-1zM1090 188v1h1v-1zM1091 189v2h1v-2zM1092 191v1h1v-1zM1093 192v1h1v-1zM1098 195v1h1v-1zM1117 205v1h1v-1zM1122 208v1h1v-1zM1138 215v1h1v-1zM1141 217v1h1v-1zM1146 220v1h1v-1zM1149 222v1h1v-1zM1154 225v1h1v-1zM1226 217v1h1v-1zM1229 219v1h1v-1zM1230 220v1h1v-1zM1231 221v2h1v-2zM1232 223v1h1v-1zM1233 224v1h1v-1zM1234 225v1h1v-1zM1241 229v1h1v-1zM1242 230v1h1v-1zM1243 231v1h1v-1zM1244 232v1h1v-1zM1390 237v2h1v-2zM1391 236v1h1v-1zM1392 234v2h1v-2zM1393 233v1h1v-1zM1394 231v2h1v-2zM1395 230v1h1v-1zM1396 228v2h1v-2zM1397 227v1h1v-1zM1398 226v1h1v-1zM1399 225v1h1v-1zM1400 224v1h1v-1zM1401 222v2h1v-2zM1402 221v1h1v-1zM1403 220v1h1v-1zM1404 219v1h1v-1z" fill="#3cb371" shape-rendering="crispEdges"/>
<rect x="0" y="118" width="1655" height="1" fill="#ff0000" />
<rect x="0" y="140" width="1655" height="1" fill="#ff0000" />
<rect x="0" y="158" width="1655" height="1" fill="#32cd32" />
<rect x="0" y="176" width="1655" height="1" fill="#c0c0c0" />
<rect x="0" y="194" width="1655" height="1" fill="#0000ff" />
<rect x="0" y="210" width="1655" height="1" fill="#0000ff" />
<rect x="-2.5" y="192.5" width="4" height="4" fill="#fff" stroke="#0000ff" stroke-width="1" shape-rendering="crispEdges"/>
<rect x="1650.5" y="192.5" width="4" height="4" fill="#fff" stroke="#0000ff" stroke-width="1" shape-rendering="crispEdges"/>
<path d="M787 57.5 L798 57.5" stroke="#ff0000" stroke-width="1" fill="none" shape-rendering="crispEdges"/>
<rect x="726.5" y="48.5" width="61" height="18" fill="#fff" stroke="#ff0000" stroke-width="1" shape-rendering="crispEdges"/>
<text transform="translate(757.0 63.64) scale(1 1.0)" font-size="15.9" fill="#ff0000" text-anchor="middle">156.087</text>
<path d="M1094 158.5 L1104 158.5" stroke="#ff0000" stroke-width="1" fill="none" shape-rendering="crispEdges"/>
<rect x="1104.5" y="146.5" width="73" height="24" fill="#fff" stroke="#ff0000" stroke-width="1" shape-rendering="crispEdges"/>
<text transform="translate(1141.0 167.3) scale(1 1.14)" font-size="19.6" fill="#ff0000" text-anchor="middle">155.131</text>
<path d="M1227 266.5 L1238 266.5" stroke="#ff0000" stroke-width="1" fill="none" shape-rendering="crispEdges"/>
<rect x="1166.5" y="257.5" width="61" height="18" fill="#fff" stroke="#ff0000" stroke-width="1" shape-rendering="crispEdges"/>
<text transform="translate(1197.0 272.64) scale(1 1.0)" font-size="15.9" fill="#ff0000" text-anchor="middle">154.119</text>
<path d="M1331 246.5 L1342 246.5" stroke="#ff0000" stroke-width="1" fill="none" shape-rendering="crispEdges"/>
<rect x="1270.5" y="237.5" width="61" height="18" fill="#fff" stroke="#ff0000" stroke-width="1" shape-rendering="crispEdges"/>
<text transform="translate(1301.0 252.64) scale(1 1.0)" font-size="15.9" fill="#ff0000" text-anchor="middle">154.308</text>
<path d="M1371 121.5 L1382 121.5" stroke="#ff0000" stroke-width="1" fill="none" shape-rendering="crispEdges"/>
<rect x="1310.5" y="112.5" width="61" height="18" fill="#fff" stroke="#ff0000" stroke-width="1" shape-rendering="crispEdges"/>
<text transform="translate(1341.0 127.64) scale(1 1.0)" font-size="15.9" fill="#ff0000" text-anchor="middle">155.481</text>
<rect x="1372.5" y="119.5" width="2" height="2" fill="#fff" stroke="#ff0000" stroke-width="1" shape-rendering="crispEdges"/>
<rect x="5" y="470" width="1" height="46" fill="#000" />
<rect x="3" y="487" width="5" height="4" fill="#000" />
<rect x="13" y="487" width="1" height="24" fill="#000" />
<rect x="11" y="490" width="5" height="15" fill="#000" />
<rect x="21" y="497" width="1" height="26" fill="#000" />
<rect x="19" y="501" width="5" height="4" fill="#000" />
<rect x="20" y="502" width="3" height="2" fill="#fff" />
<rect x="29" y="481" width="1" height="25" fill="#000" />
<rect x="27" y="494" width="5" height="9" fill="#000" />
<rect x="28" y="495" width="3" height="7" fill="#fff" />
<rect x="37" y="479" width="1" height="27" fill="#000" />
<rect x="35" y="490" width="5" height="6" fill="#000" />
<rect x="36" y="491" width="3" height="4" fill="#fff" />
<rect x="45" y="479" width="1" height="93" fill="#000" />
<rect x="43" y="491" width="5" height="10" fill="#000" />
<rect x="53" y="488" width="1" height="77" fill="#000" />
<rect x="51" y="500" width="5" height="44" fill="#000" />
<rect x="61" y="532" width="1" height="27" fill="#000" />
<rect x="59" y="539" width="5" height="5" fill="#000" />
<rect x="60" y="540" width="3" height="3" fill="#fff" />
<rect x="69" y="537" width="1" height="13" fill="#000" />
<rect x="67" y="538" width="5" height="5" fill="#000" />
<rect x="77" y="511" width="1" height="45" fill="#000" />
<rect x="75" y="516" width="5" height="27" fill="#000" />
<rect x="76" y="517" width="3" height="25" fill="#fff" />
<rect x="85" y="491" width="1" height="40" fill="#000" />
<rect x="83" y="496" width="5" height="22" fill="#000" />
<rect x="84" y="497" width="3" height="20" fill="#fff" />
<rect x="93" y="488" width="1" height="39" fill="#000" />
<rect x="91" y="496" width="5" height="18" fill="#000" />
<rect x="101" y="497" width="1" height="74" fill="#000" />
<rect x="99" y="500" width="5" height="13" fill="#000" />
<rect x="100" y="501" width="3" height="11" fill="#fff" />
<rect x="109" y="483" width="1" height="26" fill="#000" />
<rect x="107" y="489" width="5" height="11" fill="#000" />
<rect x="108" y="490" width="3" height="9" fill="#fff" />
<rect x="117" y="443" width="1" height="28" fill="#000" />
<rect x="115" y="445" width="5" height="15" fill="#000" />
<rect x="116" y="446" width="3" height="13" fill="#fff" />
<rect x="125" y="408" width="1" height="43" fill="#000" />
<rect x="123" y="422" width="5" height="25" fill="#000" />
<rect x="124" y="423" width="3" height="23" fill="#fff" />
<rect x="133" y="347" width="1" height="82" fill="#000" />
<rect x="131" y="352" width="5" height="71" fill="#000" />
<rect x="132" y="353" width="3" height="69" fill="#fff" />
<rect x="141" y="324" width="1" height="50" fill="#000" />
<rect x="139" y="330" width="5" height="23" fill="#000" />
<rect x="140" y="331" width="3" height="21" fill="#fff" />
<rect x="149" y="296" width="1" height="44" fill="#000" />
<rect x="147" y="298" width="5" height="33" fill="#000" />
<rect x="148" y="299" width="3" height="31" fill="#fff" />
<rect x="157" y="277" width="1" height="39" fill="#000" />
<rect x="155" y="298" width="5" height="12" fill="#000" />
<rect x="165" y="300" width="1" height="31" fill="#000" />
<rect x="163" y="300" width="5" height="9" fill="#000" />
<rect x="164" y="301" width="3" height="7" fill="#fff" />
<rect x="173" y="291" width="1" height="22" fill="#000" />
<rect x="171" y="301" width="5" height="6" fill="#000" />
<rect x="181" y="284" width="1" height="34" fill="#000" />
<rect x="179" y="294" width="5" height="13" fill="#000" />
<rect x="180" y="295" width="3" height="11" fill="#fff" />
<rect x="189" y="286" width="1" height="44" fill="#000" />
<rect x="187" y="294" width="5" height="28" fill="#000" />
<rect x="197" y="305" width="1" height="66" fill="#000" />
<rect x="195" y="322" width="5" height="7" fill="#000" />
<rect x="205" y="297" width="1" height="34" fill="#000" />
<rect x="203" y="315" width="5" height="13" fill="#000" />
<rect x="204" y="316" width="3" height="11" fill="#fff" />
<rect x="213" y="311" width="1" height="18" fill="#000" />
<rect x="211" y="315" width="5" height="1" fill="#000" />
<rect x="221" y="307" width="1" height="25" fill="#000" />
<rect x="219" y="315" width="5" height="12" fill="#000" />
<rect x="229" y="288" width="1" height="38" fill="#000" />
<rect x="227" y="302" width="5" height="24" fill="#000" />
<rect x="228" y="303" width="3" height="22" fill="#fff" />
<rect x="237" y="296" width="1" height="29" fill="#000" />
<rect x="235" y="302" width="5" height="13" fill="#000" />
<rect x="245" y="234" width="1" height="91" fill="#000" />
<rect x="243" y="257" width="5" height="59" fill="#000" />
<rect x="244" y="258" width="3" height="57" fill="#fff" />
<rect x="253" y="251" width="1" height="32" fill="#000" />
<rect x="251" y="257" width="5" height="17" fill="#000" />
<rect x="261" y="251" width="1" height="33" fill="#000" />
<rect x="259" y="258" width="5" height="17" fill="#000" />
<rect x="260" y="259" width="3" height="15" fill="#fff" />
<rect x="269" y="248" width="1" height="28" fill="#000" />
<rect x="267" y="251" width="5" height="7" fill="#000" />
<rect x="268" y="252" width="3" height="5" fill="#fff" />
<rect x="277" y="244" width="1" height="47" fill="#000" />
<rect x="275" y="251" width="5" height="21" fill="#000" />
<rect x="285" y="264" width="1" height="64" fill="#000" />
<rect x="283" y="271" width="5" height="35" fill="#000" />
<rect x="293" y="271" width="1" height="45" fill="#000" />
<rect x="291" y="305" width="5" height="4" fill="#000" />
<rect x="301" y="300" width="1" height="38" fill="#000" />
<rect x="299" y="304" width="5" height="5" fill="#000" />
<rect x="300" y="305" width="3" height="3" fill="#fff" />
<rect x="309" y="295" width="1" height="16" fill="#000" />
<rect x="307" y="299" width="5" height="6" fill="#000" />
<rect x="308" y="300" width="3" height="4" fill="#fff" />
<rect x="317" y="279" width="1" height="24" fill="#000" />
<rect x="315" y="292" width="5" height="8" fill="#000" />
<rect x="316" y="293" width="3" height="6" fill="#fff" />
<rect x="325" y="284" width="1" height="26" fill="#000" />
<rect x="323" y="292" width="5" height="7" fill="#000" />
<rect x="333" y="282" width="1" height="40" fill="#000" />
<rect x="331" y="292" width="5" height="9" fill="#000" />
<rect x="332" y="293" width="3" height="7" fill="#fff" />
<rect x="341" y="252" width="1" height="43" fill="#000" />
<rect x="339" y="263" width="5" height="29" fill="#000" />
<rect x="340" y="264" width="3" height="27" fill="#fff" />
<rect x="349" y="250" width="1" height="19" fill="#000" />
<rect x="347" y="260" width="5" height="5" fill="#000" />
<rect x="348" y="261" width="3" height="3" fill="#fff" />
<rect x="357" y="249" width="1" height="12" fill="#000" />
<rect x="355" y="249" width="5" height="8" fill="#000" />
<rect x="356" y="250" width="3" height="6" fill="#fff" />
<rect x="365" y="248" width="1" height="38" fill="#000" />
<rect x="363" y="250" width="5" height="29" fill="#000" />
<rect x="373" y="261" width="1" height="36" fill="#000" />
<rect x="371" y="278" width="5" height="5" fill="#000" />
<rect x="381" y="269" width="1" height="31" fill="#000" />
<rect x="379" y="282" width="5" height="11" fill="#000" />
<rect x="389" y="253" width="1" height="56" fill="#000" />
<rect x="387" y="257" width="5" height="36" fill="#000" />
<rect x="388" y="258" width="3" height="34" fill="#fff" />
<rect x="397" y="235" width="1" height="24" fill="#000" />
<rect x="395" y="239" width="5" height="19" fill="#000" />
<rect x="396" y="240" width="3" height="17" fill="#fff" />
<rect x="405" y="221" width="1" height="39" fill="#000" />
<rect x="403" y="221" width="5" height="18" fill="#000" />
<rect x="404" y="222" width="3" height="16" fill="#fff" />
<rect x="413" y="192" width="1" height="36" fill="#000" />
<rect x="411" y="198" width="5" height="23" fill="#000" />
<rect x="412" y="199" width="3" height="21" fill="#fff" />
<rect x="421" y="193" width="1" height="26" fill="#000" />
<rect x="419" y="197" width="5" height="6" fill="#000" />
<rect x="429" y="192" width="1" height="35" fill="#000" />
<rect x="427" y="201" width="5" height="2" fill="#000" />
<rect x="437" y="197" width="1" height="30" fill="#000" />
<rect x="435" y="202" width="5" height="14" fill="#000" />
<rect x="445" y="211" width="1" height="23" fill="#000" />
<rect x="443" y="215" width="5" height="11" fill="#000" />
<rect x="453" y="220" width="1" height="22" fill="#000" />
<rect x="451" y="224" width="5" height="9" fill="#000" />
<rect x="461" y="200" width="1" height="34" fill="#000" />
<rect x="459" y="222" width="5" height="11" fill="#000" />
<rect x="460" y="223" width="3" height="9" fill="#fff" />
<rect x="469" y="194" width="1" height="32" fill="#000" />
<rect x="467" y="213" width="5" height="10" fill="#000" />
<rect x="468" y="214" width="3" height="8" fill="#fff" />
<rect x="477" y="196" width="1" height="31" fill="#000" />
<rect x="475" y="213" width="5" height="11" fill="#000" />
<rect x="485" y="211" width="1" height="119" fill="#000" />
<rect x="483" y="222" width="5" height="50" fill="#000" />
<rect x="493" y="247" width="1" height="32" fill="#000" />
<rect x="491" y="260" width="5" height="12" fill="#000" />
<rect x="492" y="261" width="3" height="10" fill="#fff" />
<rect x="501" y="253" width="1" height="23" fill="#000" />
<rect x="499" y="260" width="5" height="7" fill="#000" />
<rect x="509" y="254" width="1" height="33" fill="#000" />
<rect x="507" y="265" width="5" height="12" fill="#000" />
<rect x="517" y="261" width="1" height="23" fill="#000" />
<rect x="515" y="271" width="5" height="6" fill="#000" />
<rect x="516" y="272" width="3" height="4" fill="#fff" />
<rect x="525" y="270" width="1" height="50" fill="#000" />
<rect x="523" y="272" width="5" height="22" fill="#000" />
<rect x="533" y="250" width="1" height="48" fill="#000" />
<rect x="531" y="251" width="5" height="43" fill="#000" />
<rect x="532" y="252" width="3" height="41" fill="#fff" />
<rect x="541" y="236" width="1" height="24" fill="#000" />
<rect x="539" y="243" width="5" height="9" fill="#000" />
<rect x="540" y="244" width="3" height="7" fill="#fff" />
<rect x="549" y="233" width="1" height="16" fill="#000" />
<rect x="547" y="236" width="5" height="8" fill="#000" />
<rect x="548" y="237" width="3" height="6" fill="#fff" />
<rect x="557" y="228" width="1" height="28" fill="#000" />
<rect x="555" y="236" width="5" height="10" fill="#000" />
<rect x="565" y="240" width="1" height="40" fill="#000" />
<rect x="563" y="245" width="5" height="20" fill="#000" />
<rect x="573" y="209" width="1" height="64" fill="#000" />
<rect x="571" y="236" width="5" height="29" fill="#000" />
<rect x="572" y="237" width="3" height="27" fill="#fff" />
<rect x="581" y="227" width="1" height="38" fill="#000" />
<rect x="579" y="235" width="5" height="24" fill="#000" />
<rect x="589" y="253" width="1" height="14" fill="#000" />
<rect x="587" y="258" width="5" height="4" fill="#000" />
<rect x="597" y="270" width="1" height="10" fill="#000" />
<rect x="595" y="272" width="5" height="8" fill="#000" />
<rect x="605" y="263" width="1" height="25" fill="#000" />
<rect x="603" y="279" width="5" height="4" fill="#000" />
<rect x="613" y="266" width="1" height="37" fill="#000" />
<rect x="611" y="271" width="5" height="12" fill="#000" />
<rect x="612" y="272" width="3" height="10" fill="#fff" />
<rect x="621" y="266" width="1" height="40" fill="#000" />
<rect x="619" y="271" width="5" height="26" fill="#000" />
<rect x="629" y="269" width="1" height="30" fill="#000" />
<rect x="627" y="288" width="5" height="9" fill="#000" />
<rect x="628" y="289" width="3" height="7" fill="#fff" />
<rect x="637" y="277" width="1" height="12" fill="#000" />
<rect x="635" y="279" width="5" height="10" fill="#000" />
<rect x="636" y="280" width="3" height="8" fill="#fff" />
<rect x="645" y="267" width="1" height="34" fill="#000" />
<rect x="643" y="271" width="5" height="9" fill="#000" />
<rect x="644" y="272" width="3" height="7" fill="#fff" />
<rect x="653" y="260" width="1" height="24" fill="#000" />
<rect x="651" y="266" width="5" height="8" fill="#000" />
<rect x="652" y="267" width="3" height="6" fill="#fff" />
<rect x="661" y="245" width="1" height="23" fill="#000" />
<rect x="659" y="254" width="5" height="13" fill="#000" />
<rect x="660" y="255" width="3" height="11" fill="#fff" />
<rect x="669" y="232" width="1" height="36" fill="#000" />
<rect x="667" y="256" width="5" height="4" fill="#000" />
<rect x="677" y="252" width="1" height="48" fill="#000" />
<rect x="675" y="259" width="5" height="36" fill="#000" />
<rect x="685" y="276" width="1" height="29" fill="#000" />
<rect x="683" y="293" width="5" height="9" fill="#000" />
<rect x="693" y="285" width="1" height="25" fill="#000" />
<rect x="691" y="295" width="5" height="7" fill="#000" />
<rect x="692" y="296" width="3" height="5" fill="#fff" />
<rect x="701" y="270" width="1" height="35" fill="#000" />
<rect x="699" y="271" width="5" height="24" fill="#000" />
<rect x="700" y="272" width="3" height="22" fill="#fff" />
<rect x="709" y="260" width="1" height="35" fill="#000" />
<rect x="707" y="271" width="5" height="19" fill="#000" />
<rect x="717" y="244" width="1" height="48" fill="#000" />
<rect x="715" y="265" width="5" height="24" fill="#000" />
<rect x="716" y="266" width="3" height="22" fill="#fff" />
<rect x="725" y="252" width="1" height="41" fill="#000" />
<rect x="723" y="264" width="5" height="2" fill="#000" />
<rect x="733" y="260" width="1" height="20" fill="#000" />
<rect x="731" y="264" width="5" height="2" fill="#000" />
<rect x="741" y="263" width="1" height="22" fill="#000" />
<rect x="739" y="265" width="5" height="6" fill="#000" />
<rect x="749" y="268" width="1" height="30" fill="#000" />
<rect x="747" y="271" width="5" height="17" fill="#000" />
<rect x="757" y="258" width="1" height="36" fill="#000" />
<rect x="755" y="272" width="5" height="16" fill="#000" />
<rect x="756" y="273" width="3" height="14" fill="#fff" />
<rect x="765" y="192" width="1" height="84" fill="#000" />
<rect x="763" y="195" width="5" height="78" fill="#000" />
<rect x="764" y="196" width="3" height="76" fill="#fff" />
<rect x="773" y="91" width="1" height="104" fill="#000" />
<rect x="771" y="107" width="5" height="86" fill="#000" />
<rect x="772" y="108" width="3" height="84" fill="#fff" />
<rect x="781" y="60" width="1" height="48" fill="#000" />
<rect x="779" y="75" width="5" height="33" fill="#000" />
<rect x="780" y="76" width="3" height="31" fill="#fff" />
<rect x="789" y="63" width="1" height="22" fill="#000" />
<rect x="787" y="72" width="5" height="5" fill="#000" />
<rect x="788" y="73" width="3" height="3" fill="#fff" />
<rect x="797" y="61" width="1" height="27" fill="#000" />
<rect x="795" y="69" width="5" height="4" fill="#000" />
<rect x="796" y="70" width="3" height="2" fill="#fff" />
<rect x="805" y="64" width="1" height="31" fill="#000" />
<rect x="803" y="69" width="5" height="8" fill="#000" />
<rect x="813" y="64" width="1" height="31" fill="#000" />
<rect x="811" y="76" width="5" height="9" fill="#000" />
<rect x="821" y="72" width="1" height="41" fill="#000" />
<rect x="819" y="84" width="5" height="1" fill="#000" />
<rect x="829" y="77" width="1" height="15" fill="#000" />
<rect x="827" y="84" width="5" height="2" fill="#000" />
<rect x="837" y="78" width="1" height="10" fill="#000" />
<rect x="835" y="83" width="5" height="3" fill="#000" />
<rect x="845" y="82" width="1" height="28" fill="#000" />
<rect x="843" y="85" width="5" height="14" fill="#000" />
<rect x="853" y="95" width="1" height="22" fill="#000" />
<rect x="851" y="98" width="5" height="19" fill="#000" />
<rect x="861" y="112" width="1" height="25" fill="#000" />
<rect x="859" y="116" width="5" height="2" fill="#000" />
<rect x="869" y="110" width="1" height="33" fill="#000" />
<rect x="867" y="111" width="5" height="7" fill="#000" />
<rect x="868" y="112" width="3" height="5" fill="#fff" />
<rect x="877" y="107" width="1" height="18" fill="#000" />
<rect x="875" y="108" width="5" height="4" fill="#000" />
<rect x="876" y="109" width="3" height="2" fill="#fff" />
<rect x="885" y="89" width="1" height="28" fill="#000" />
<rect x="883" y="92" width="5" height="17" fill="#000" />
<rect x="884" y="93" width="3" height="15" fill="#fff" />
<rect x="893" y="79" width="1" height="32" fill="#000" />
<rect x="891" y="88" width="5" height="6" fill="#000" />
<rect x="892" y="89" width="3" height="4" fill="#fff" />
<rect x="901" y="75" width="1" height="39" fill="#000" />
<rect x="899" y="87" width="5" height="12" fill="#000" />
<rect x="909" y="90" width="1" height="55" fill="#000" />
<rect x="907" y="98" width="5" height="41" fill="#000" />
<rect x="917" y="128" width="1" height="49" fill="#000" />
<rect x="915" y="138" width="5" height="34" fill="#000" />
<rect x="925" y="165" width="1" height="25" fill="#000" />
<rect x="923" y="171" width="5" height="12" fill="#000" />
<rect x="933" y="174" width="1" height="16" fill="#000" />
<rect x="931" y="175" width="5" height="7" fill="#000" />
<rect x="932" y="176" width="3" height="5" fill="#fff" />
<rect x="941" y="148" width="1" height="31" fill="#000" />
<rect x="939" y="151" width="5" height="25" fill="#000" />
<rect x="940" y="152" width="3" height="23" fill="#fff" />
<rect x="949" y="138" width="1" height="32" fill="#000" />
<rect x="947" y="150" width="5" height="2" fill="#000" />
<rect x="957" y="139" width="1" height="31" fill="#000" />
<rect x="955" y="147" width="5" height="7" fill="#000" />
<rect x="956" y="148" width="3" height="5" fill="#fff" />
<rect x="965" y="121" width="1" height="30" fill="#000" />
<rect x="963" y="135" width="5" height="13" fill="#000" />
<rect x="964" y="136" width="3" height="11" fill="#fff" />
<rect x="973" y="129" width="1" height="28" fill="#000" />
<rect x="971" y="134" width="5" height="15" fill="#000" />
<rect x="981" y="140" width="1" height="13" fill="#000" />
<rect x="979" y="142" width="5" height="7" fill="#000" />
<rect x="980" y="143" width="3" height="5" fill="#fff" />
<rect x="989" y="126" width="1" height="18" fill="#000" />
<rect x="987" y="131" width="5" height="13" fill="#000" />
<rect x="988" y="132" width="3" height="11" fill="#fff" />
<rect x="997" y="125" width="1" height="17" fill="#000" />
<rect x="995" y="131" width="5" height="5" fill="#000" />
<rect x="1005" y="87" width="1" height="48" fill="#000" />
<rect x="1003" y="93" width="5" height="42" fill="#000" />
<rect x="1004" y="94" width="3" height="40" fill="#fff" />
<rect x="1013" y="91" width="1" height="49" fill="#000" />
<rect x="1011" y="92" width="5" height="31" fill="#000" />
<rect x="1021" y="114" width="1" height="22" fill="#000" />
<rect x="1019" y="115" width="5" height="8" fill="#000" />
<rect x="1020" y="116" width="3" height="6" fill="#fff" />
<rect x="1029" y="107" width="1" height="20" fill="#000" />
<rect x="1027" y="111" width="5" height="5" fill="#000" />
<rect x="1028" y="112" width="3" height="3" fill="#fff" />
<rect x="1037" y="109" width="1" height="35" fill="#000" />
<rect x="1035" y="110" width="5" height="23" fill="#000" />
<rect x="1045" y="115" width="1" height="31" fill="#000" />
<rect x="1043" y="118" width="5" height="15" fill="#000" />
<rect x="1044" y="119" width="3" height="13" fill="#fff" />
<rect x="1053" y="102" width="1" height="23" fill="#000" />
<rect x="1051" y="113" width="5" height="7" fill="#000" />
<rect x="1052" y="114" width="3" height="5" fill="#fff" />
<rect x="1061" y="95" width="1" height="76" fill="#000" />
<rect x="1059" y="113" width="5" height="51" fill="#000" />
<rect x="1069" y="157" width="1" height="14" fill="#000" />
<rect x="1067" y="163" width="5" height="4" fill="#000" />
<rect x="1077" y="145" width="1" height="16" fill="#000" />
<rect x="1075" y="146" width="5" height="15" fill="#000" />
<rect x="1076" y="147" width="3" height="13" fill="#fff" />
<rect x="1085" y="144" width="1" height="43" fill="#000" />
<rect x="1083" y="147" width="5" height="33" fill="#000" />
<rect x="1093" y="178" width="1" height="44" fill="#000" />
<rect x="1091" y="178" width="5" height="32" fill="#000" />
<rect x="1101" y="180" width="1" height="42" fill="#000" />
<rect x="1099" y="183" width="5" height="27" fill="#000" />
<rect x="1100" y="184" width="3" height="25" fill="#fff" />
<rect x="1109" y="176" width="1" height="32" fill="#000" />
<rect x="1107" y="182" width="5" height="4" fill="#000" />
<rect x="1117" y="172" width="1" height="14" fill="#000" />
<rect x="1115" y="182" width="5" height="4" fill="#000" />
<rect x="1116" y="183" width="3" height="2" fill="#fff" />
<rect x="1125" y="177" width="1" height="12" fill="#000" />
<rect x="1123" y="181" width="5" height="5" fill="#000" />
<rect x="1133" y="165" width="1" height="26" fill="#000" />
<rect x="1131" y="180" width="5" height="6" fill="#000" />
<rect x="1132" y="181" width="3" height="4" fill="#fff" />
<rect x="1141" y="172" width="1" height="29" fill="#000" />
<rect x="1139" y="180" width="5" height="11" fill="#000" />
<rect x="1149" y="183" width="1" height="31" fill="#000" />
<rect x="1147" y="190" width="5" height="9" fill="#000" />
<rect x="1157" y="184" width="1" height="38" fill="#000" />
<rect x="1155" y="189" width="5" height="9" fill="#000" />
<rect x="1156" y="190" width="3" height="7" fill="#fff" />
<rect x="1165" y="165" width="1" height="27" fill="#000" />
<rect x="1163" y="177" width="5" height="14" fill="#000" />
<rect x="1164" y="178" width="3" height="12" fill="#fff" />
<rect x="1173" y="176" width="1" height="11" fill="#000" />
<rect x="1171" y="177" width="5" height="9" fill="#000" />
<rect x="1181" y="168" width="1" height="23" fill="#000" />
<rect x="1179" y="172" width="5" height="14" fill="#000" />
<rect x="1180" y="173" width="3" height="12" fill="#fff" />
<rect x="1189" y="154" width="1" height="29" fill="#000" />
<rect x="1187" y="161" width="5" height="11" fill="#000" />
<rect x="1188" y="162" width="3" height="9" fill="#fff" />
<rect x="1197" y="141" width="1" height="34" fill="#000" />
<rect x="1195" y="161" width="5" height="9" fill="#000" />
<rect x="1205" y="168" width="1" height="62" fill="#000" />
<rect x="1203" y="169" width="5" height="26" fill="#000" />
<rect x="1213" y="191" width="1" height="24" fill="#000" />
<rect x="1211" y="194" width="5" height="15" fill="#000" />
<rect x="1221" y="199" width="1" height="11" fill="#000" />
<rect x="1219" y="208" width="5" height="2" fill="#000" />
<rect x="1229" y="199" width="1" height="19" fill="#000" />
<rect x="1227" y="208" width="5" height="2" fill="#000" />
<rect x="1237" y="209" width="1" height="57" fill="#000" />
<rect x="1235" y="210" width="5" height="36" fill="#000" />
<rect x="1245" y="225" width="1" height="37" fill="#000" />
<rect x="1243" y="233" width="5" height="13" fill="#000" />
<rect x="1244" y="234" width="3" height="11" fill="#fff" />
<rect x="1253" y="151" width="1" height="84" fill="#000" />
<rect x="1251" y="164" width="5" height="69" fill="#000" />
<rect x="1252" y="165" width="3" height="67" fill="#fff" />
<rect x="1261" y="160" width="1" height="30" fill="#000" />
<rect x="1259" y="163" width="5" height="25" fill="#000" />
<rect x="1269" y="169" width="1" height="18" fill="#000" />
<rect x="1267" y="173" width="5" height="14" fill="#000" />
<rect x="1268" y="174" width="3" height="12" fill="#fff" />
<rect x="1277" y="160" width="1" height="17" fill="#000" />
<rect x="1275" y="162" width="5" height="10" fill="#000" />
<rect x="1276" y="163" width="3" height="8" fill="#fff" />
<rect x="1285" y="152" width="1" height="39" fill="#000" />
<rect x="1283" y="160" width="5" height="12" fill="#000" />
<rect x="1293" y="163" width="1" height="24" fill="#000" />
<rect x="1291" y="168" width="5" height="4" fill="#000" />
<rect x="1292" y="169" width="3" height="2" fill="#fff" />
<rect x="1301" y="163" width="1" height="27" fill="#000" />
<rect x="1299" y="168" width="5" height="19" fill="#000" />
<rect x="1309" y="186" width="1" height="27" fill="#000" />
<rect x="1307" y="186" width="5" height="14" fill="#000" />
<rect x="1317" y="184" width="1" height="8" fill="#000" />
<rect x="1315" y="185" width="5" height="4" fill="#000" />
<rect x="1316" y="186" width="3" height="2" fill="#fff" />
<rect x="1325" y="179" width="1" height="13" fill="#000" />
<rect x="1323" y="185" width="5" height="1" fill="#000" />
<rect x="1333" y="183" width="1" height="38" fill="#000" />
<rect x="1331" y="184" width="5" height="24" fill="#000" />
<rect x="1341" y="198" width="1" height="48" fill="#000" />
<rect x="1339" y="198" width="5" height="10" fill="#000" />
<rect x="1340" y="199" width="3" height="8" fill="#fff" />
<rect x="1349" y="142" width="1" height="58" fill="#000" />
<rect x="1347" y="147" width="5" height="52" fill="#000" />
<rect x="1348" y="148" width="3" height="50" fill="#fff" />
<rect x="1357" y="137" width="1" height="15" fill="#000" />
<rect x="1355" y="145" width="5" height="4" fill="#000" />
<rect x="1356" y="146" width="3" height="2" fill="#fff" />
<rect x="1365" y="141" width="1" height="9" fill="#000" />
<rect x="1363" y="145" width="5" height="3" fill="#000" />
<rect x="1373" y="132" width="1" height="28" fill="#000" />
<rect x="1371" y="137" width="5" height="9" fill="#000" />
<rect x="1372" y="138" width="3" height="7" fill="#fff" />
<rect x="1381" y="121" width="1" height="34" fill="#000" />
<rect x="1379" y="137" width="5" height="1" fill="#000" />
<rect x="1389" y="133" width="1" height="91" fill="#000" />
<rect x="1387" y="137" width="5" height="78" fill="#000" />
<rect x="1397" y="160" width="1" height="56" fill="#000" />
<rect x="1395" y="175" width="5" height="38" fill="#000" />
<rect x="1396" y="176" width="3" height="36" fill="#fff" />
<rect x="1405" y="160" width="1" height="19" fill="#000" />
<rect x="1403" y="175" width="5" height="4" fill="#000" />
<rect x="1413" y="171" width="1" height="9" fill="#000" />
<rect x="1411" y="176" width="5" height="4" fill="#000" />
<rect x="1412" y="177" width="3" height="2" fill="#fff" />
</g>
<rect x="1274" y="153" width="178" height="10" fill="#00ff00" />
<text x="1463.3" y="172.7" font-size="21.3" fill="#00ff00" text-anchor="start" font-weight="300"  >多空转折点</text>
<line x1="1229.0" y1="252.8" x2="1259.9" y2="158.5" stroke="#ff0000" stroke-width="3.7" shape-rendering="crispEdges"/>
<polygon points="1262.8,149.8 1263.8,162.2 1259.8,159.1 1254.7,159.2" fill="#ff0000" shape-rendering="crispEdges"/>
<line x1="1270.3" y1="155.0" x2="1338.1" y2="235.5" stroke="#ff0000" stroke-width="3.7" shape-rendering="crispEdges"/>
<polygon points="1344.0,242.5 1332.9,236.8 1337.7,235.0 1340.3,230.6" fill="#ff0000" shape-rendering="crispEdges"/>
<line x1="1344.3" y1="242.0" x2="1382.0" y2="134.4" stroke="#ff0000" stroke-width="3.7" shape-rendering="crispEdges"/>
<polygon points="1385.0,125.7 1385.7,138.1 1381.8,134.9 1376.7,135.0" fill="#ff0000" shape-rendering="crispEdges"/>
<line x1="1385.0" y1="125.7" x2="1397.0" y2="214.1" stroke="#ff0000" stroke-width="3.7" shape-rendering="crispEdges"/>
<polygon points="1398.2,223.2 1391.9,212.4 1396.9,213.5 1401.4,211.2" fill="#ff0000" shape-rendering="crispEdges"/>
<line x1="1398.2" y1="223.2" x2="1408.1" y2="191.3" stroke="#ff0000" stroke-width="3.7" shape-rendering="crispEdges"/>
<polygon points="1410.8,182.5 1412.0,194.9 1407.9,191.8 1402.8,192.1" fill="#ff0000" shape-rendering="crispEdges"/>
</g>
<rect x="0" y="32" width="1656" height="1" fill="#000" />
<rect x="0" y="585" width="1656" height="1" fill="#000" />
<rect x="1655" y="32" width="1" height="554" fill="#000" />
<rect x="1656" y="54" width="2" height="1" fill="#000" />
<text x="1661" y="56.7" font-size="9.15" fill="#000" text-anchor="start" font-weight="normal" stroke="#000" stroke-width="0.3" >156.115</text>
<rect x="1656" y="87" width="2" height="1" fill="#000" />
<text x="1661" y="89.7" font-size="9.15" fill="#000" text-anchor="start" font-weight="normal" stroke="#000" stroke-width="0.3" >155.805</text>
<rect x="1656" y="120" width="2" height="1" fill="#000" />
<text x="1661" y="122.7" font-size="9.15" fill="#000" text-anchor="start" font-weight="normal" stroke="#000" stroke-width="0.3" >155.490</text>
<rect x="1656" y="153" width="2" height="1" fill="#000" />
<text x="1661" y="155.7" font-size="9.15" fill="#000" text-anchor="start" font-weight="normal" stroke="#000" stroke-width="0.3" >155.180</text>
<rect x="1656" y="186" width="2" height="1" fill="#000" />
<text x="1661" y="188.7" font-size="9.15" fill="#000" text-anchor="start" font-weight="normal" stroke="#000" stroke-width="0.3" >154.870</text>
<rect x="1656" y="219" width="2" height="1" fill="#000" />
<text x="1661" y="221.7" font-size="9.15" fill="#000" text-anchor="start" font-weight="normal" stroke="#000" stroke-width="0.3" >154.555</text>
<rect x="1656" y="252" width="2" height="1" fill="#000" />
<text x="1661" y="254.7" font-size="9.15" fill="#000" text-anchor="start" font-weight="normal" stroke="#000" stroke-width="0.3" >154.245</text>
<rect x="1656" y="285" width="2" height="1" fill="#000" />
<text x="1661" y="287.7" font-size="9.15" fill="#000" text-anchor="start" font-weight="normal" stroke="#000" stroke-width="0.3" >153.935</text>
<rect x="1656" y="318" width="2" height="1" fill="#000" />
<text x="1661" y="320.7" font-size="9.15" fill="#000" text-anchor="start" font-weight="normal" stroke="#000" stroke-width="0.3" >153.625</text>
<rect x="1656" y="351" width="2" height="1" fill="#000" />
<text x="1661" y="353.7" font-size="9.15" fill="#000" text-anchor="start" font-weight="normal" stroke="#000" stroke-width="0.3" >153.310</text>
<rect x="1656" y="384" width="2" height="1" fill="#000" />
<text x="1661" y="386.7" font-size="9.15" fill="#000" text-anchor="start" font-weight="normal" stroke="#000" stroke-width="0.3" >153.000</text>
<rect x="1656" y="417" width="2" height="1" fill="#000" />
<text x="1661" y="419.7" font-size="9.15" fill="#000" text-anchor="start" font-weight="normal" stroke="#000" stroke-width="0.3" >152.690</text>
<rect x="1656" y="450" width="2" height="1" fill="#000" />
<text x="1661" y="452.7" font-size="9.15" fill="#000" text-anchor="start" font-weight="normal" stroke="#000" stroke-width="0.3" >152.375</text>
<rect x="1656" y="483" width="2" height="1" fill="#000" />
<text x="1661" y="485.7" font-size="9.15" fill="#000" text-anchor="start" font-weight="normal" stroke="#000" stroke-width="0.3" >152.065</text>
<rect x="1656" y="516" width="2" height="1" fill="#000" />
<text x="1661" y="518.7" font-size="9.15" fill="#000" text-anchor="start" font-weight="normal" stroke="#000" stroke-width="0.3" >151.755</text>
<rect x="1656" y="549" width="2" height="1" fill="#000" />
<text x="1661" y="551.7" font-size="9.15" fill="#000" text-anchor="start" font-weight="normal" stroke="#000" stroke-width="0.3" >151.445</text>
<rect x="1656" y="582" width="2" height="1" fill="#000" />
<text x="1661" y="584.7" font-size="9.15" fill="#000" text-anchor="start" font-weight="normal" stroke="#000" stroke-width="0.3" >151.130</text>
<rect x="1657" y="112" width="41" height="11" fill="#ff0000" />
<text x="1661" y="120.7" font-size="9.15" fill="#fff" text-anchor="start" font-weight="normal" stroke="#fff" stroke-width="0.3" >155.515</text>
<rect x="1657" y="134" width="41" height="11" fill="#ff0000" />
<text x="1661" y="142.7" font-size="9.15" fill="#fff" text-anchor="start" font-weight="normal" stroke="#fff" stroke-width="0.3" >155.302</text>
<rect x="1657" y="152" width="41" height="11" fill="#32cd32" />
<text x="1661" y="160.7" font-size="9.15" fill="#fff" text-anchor="start" font-weight="normal" stroke="#fff" stroke-width="0.3" >155.131</text>
<rect x="1657" y="171" width="41" height="11" fill="#000000" />
<text x="1661" y="179.7" font-size="9.15" fill="#fff" text-anchor="start" font-weight="normal" stroke="#fff" stroke-width="0.3" >154.966</text>
<rect x="1657" y="188" width="41" height="11" fill="#0000ff" />
<text x="1661" y="196.7" font-size="9.15" fill="#fff" text-anchor="start" font-weight="normal" stroke="#fff" stroke-width="0.3" >154.793</text>
<rect x="1657" y="204" width="41" height="11" fill="#0000ff" />
<text x="1661" y="212.7" font-size="9.15" fill="#fff" text-anchor="start" font-weight="normal" stroke="#fff" stroke-width="0.3" >154.646</text>
<path d="M1416.5 33 h9 l-4.5 4.5 z" fill="#c0c0c0"/>
<path d="M1 42.5 L8 42.5 L4.5 38 Z" fill="#000"/>
<text x="12" y="43.7" font-size="9.3" fill="#000" text-anchor="start" font-weight="normal" stroke="#000" stroke-width="0.3" xml:space="preserve">GBPJPY-,H4&#160;&#160;154.939 155.008 154.933 154.966</text>
<rect x="0" y="587" width="1656" height="1" fill="#000" />
<rect x="0" y="757" width="1656" height="1" fill="#000" />
<rect x="1655" y="587" width="1" height="171" fill="#000" />
<clipPath id="cmacd"><rect x="0" y="588" width="1655" height="169"/></clipPath>
<g clip-path="url(#cmacd)">
<rect x="5" y="675" width="1" height="40" fill="#c0c0c0" />
<rect x="13" y="677" width="1" height="38" fill="#c0c0c0" />
<rect x="21" y="678" width="1" height="37" fill="#c0c0c0" />
<rect x="29" y="679" width="1" height="36" fill="#c0c0c0" />
<rect x="37" y="680" width="1" height="35" fill="#c0c0c0" />
<rect x="45" y="682" width="1" height="33" fill="#c0c0c0" />
<rect x="53" y="691" width="1" height="24" fill="#c0c0c0" />
<rect x="61" y="697" width="1" height="18" fill="#c0c0c0" />
<rect x="69" y="703" width="1" height="12" fill="#c0c0c0" />
<rect x="77" y="704" width="1" height="11" fill="#c0c0c0" />
<rect x="85" y="701" width="1" height="14" fill="#c0c0c0" />
<rect x="93" y="702" width="1" height="13" fill="#c0c0c0" />
<rect x="101" y="701" width="1" height="14" fill="#c0c0c0" />
<rect x="109" y="698" width="1" height="17" fill="#c0c0c0" />
<rect x="117" y="690" width="1" height="25" fill="#c0c0c0" />
<rect x="125" y="680" width="1" height="35" fill="#c0c0c0" />
<rect x="133" y="661" width="1" height="54" fill="#c0c0c0" />
<rect x="141" y="644" width="1" height="71" fill="#c0c0c0" />
<rect x="149" y="626" width="1" height="89" fill="#c0c0c0" />
<rect x="157" y="615" width="1" height="100" fill="#c0c0c0" />
<rect x="165" y="606" width="1" height="109" fill="#c0c0c0" />
<rect x="173" y="601" width="1" height="114" fill="#c0c0c0" />
<rect x="181" y="597" width="1" height="118" fill="#c0c0c0" />
<rect x="189" y="599" width="1" height="116" fill="#c0c0c0" />
<rect x="197" y="603" width="1" height="112" fill="#c0c0c0" />
<rect x="205" y="606" width="1" height="109" fill="#c0c0c0" />
<rect x="213" y="609" width="1" height="106" fill="#c0c0c0" />
<rect x="221" y="614" width="1" height="101" fill="#c0c0c0" />
<rect x="229" y="616" width="1" height="99" fill="#c0c0c0" />
<rect x="237" y="620" width="1" height="95" fill="#c0c0c0" />
<rect x="245" y="616" width="1" height="99" fill="#c0c0c0" />
<rect x="253" y="616" width="1" height="99" fill="#c0c0c0" />
<rect x="261" y="615" width="1" height="100" fill="#c0c0c0" />
<rect x="269" y="614" width="1" height="101" fill="#c0c0c0" />
<rect x="277" y="618" width="1" height="97" fill="#c0c0c0" />
<rect x="285" y="627" width="1" height="88" fill="#c0c0c0" />
<rect x="293" y="636" width="1" height="79" fill="#c0c0c0" />
<rect x="301" y="643" width="1" height="72" fill="#c0c0c0" />
<rect x="309" y="648" width="1" height="67" fill="#c0c0c0" />
<rect x="317" y="653" width="1" height="62" fill="#c0c0c0" />
<rect x="325" y="657" width="1" height="58" fill="#c0c0c0" />
<rect x="333" y="661" width="1" height="54" fill="#c0c0c0" />
<rect x="341" y="660" width="1" height="55" fill="#c0c0c0" />
<rect x="349" y="659" width="1" height="56" fill="#c0c0c0" />
<rect x="357" y="658" width="1" height="57" fill="#c0c0c0" />
<rect x="365" y="662" width="1" height="53" fill="#c0c0c0" />
<rect x="373" y="666" width="1" height="49" fill="#c0c0c0" />
<rect x="381" y="671" width="1" height="44" fill="#c0c0c0" />
<rect x="389" y="670" width="1" height="45" fill="#c0c0c0" />
<rect x="397" y="668" width="1" height="47" fill="#c0c0c0" />
<rect x="405" y="663" width="1" height="52" fill="#c0c0c0" />
<rect x="413" y="657" width="1" height="58" fill="#c0c0c0" />
<rect x="421" y="653" width="1" height="62" fill="#c0c0c0" />
<rect x="429" y="651" width="1" height="64" fill="#c0c0c0" />
<rect x="437" y="652" width="1" height="63" fill="#c0c0c0" />
<rect x="445" y="655" width="1" height="60" fill="#c0c0c0" />
<rect x="453" y="658" width="1" height="57" fill="#c0c0c0" />
<rect x="461" y="661" width="1" height="54" fill="#c0c0c0" />
<rect x="469" y="662" width="1" height="53" fill="#c0c0c0" />
<rect x="477" y="665" width="1" height="50" fill="#c0c0c0" />
<rect x="485" y="676" width="1" height="39" fill="#c0c0c0" />
<rect x="493" y="683" width="1" height="32" fill="#c0c0c0" />
<rect x="501" y="689" width="1" height="26" fill="#c0c0c0" />
<rect x="509" y="697" width="1" height="18" fill="#c0c0c0" />
<rect x="517" y="702" width="1" height="13" fill="#c0c0c0" />
<rect x="525" y="709" width="1" height="6" fill="#c0c0c0" />
<rect x="533" y="709" width="1" height="6" fill="#c0c0c0" />
<rect x="541" y="707" width="1" height="8" fill="#c0c0c0" />
<rect x="549" y="705" width="1" height="10" fill="#c0c0c0" />
<rect x="557" y="704" width="1" height="11" fill="#c0c0c0" />
<rect x="565" y="707" width="1" height="8" fill="#c0c0c0" />
<rect x="573" y="704" width="1" height="11" fill="#c0c0c0" />
<rect x="581" y="707" width="1" height="8" fill="#c0c0c0" />
<rect x="589" y="709" width="1" height="6" fill="#c0c0c0" />
<rect x="597" y="714" width="1" height="1" fill="#c0c0c0" />
<rect x="605" y="714" width="1" height="4" fill="#c0c0c0" />
<rect x="613" y="714" width="1" height="5" fill="#c0c0c0" />
<rect x="621" y="714" width="1" height="10" fill="#c0c0c0" />
<rect x="629" y="714" width="1" height="13" fill="#c0c0c0" />
<rect x="637" y="714" width="1" height="13" fill="#c0c0c0" />
<rect x="645" y="714" width="1" height="12" fill="#c0c0c0" />
<rect x="653" y="714" width="1" height="10" fill="#c0c0c0" />
<rect x="661" y="714" width="1" height="7" fill="#c0c0c0" />
<rect x="669" y="714" width="1" height="5" fill="#c0c0c0" />
<rect x="677" y="714" width="1" height="9" fill="#c0c0c0" />
<rect x="685" y="714" width="1" height="13" fill="#c0c0c0" />
<rect x="693" y="714" width="1" height="15" fill="#c0c0c0" />
<rect x="701" y="714" width="1" height="13" fill="#c0c0c0" />
<rect x="709" y="714" width="1" height="14" fill="#c0c0c0" />
<rect x="717" y="714" width="1" height="11" fill="#c0c0c0" />
<rect x="725" y="714" width="1" height="8" fill="#c0c0c0" />
<rect x="733" y="714" width="1" height="6" fill="#c0c0c0" />
<rect x="741" y="714" width="1" height="5" fill="#c0c0c0" />
<rect x="749" y="714" width="1" height="7" fill="#c0c0c0" />
<rect x="757" y="714" width="1" height="6" fill="#c0c0c0" />
<rect x="765" y="707" width="1" height="8" fill="#c0c0c0" />
<rect x="773" y="684" width="1" height="31" fill="#c0c0c0" />
<rect x="781" y="661" width="1" height="54" fill="#c0c0c0" />
<rect x="789" y="643" width="1" height="72" fill="#c0c0c0" />
<rect x="797" y="629" width="1" height="86" fill="#c0c0c0" />
<rect x="805" y="620" width="1" height="95" fill="#c0c0c0" />
<rect x="813" y="616" width="1" height="99" fill="#c0c0c0" />
<rect x="821" y="614" width="1" height="101" fill="#c0c0c0" />
<rect x="829" y="613" width="1" height="102" fill="#c0c0c0" />
<rect x="837" y="614" width="1" height="101" fill="#c0c0c0" />
<rect x="845" y="617" width="1" height="98" fill="#c0c0c0" />
<rect x="853" y="624" width="1" height="91" fill="#c0c0c0" />
<rect x="861" y="631" width="1" height="84" fill="#c0c0c0" />
<rect x="869" y="636" width="1" height="79" fill="#c0c0c0" />
<rect x="877" y="641" width="1" height="74" fill="#c0c0c0" />
<rect x="885" y="642" width="1" height="73" fill="#c0c0c0" />
<rect x="893" y="644" width="1" height="71" fill="#c0c0c0" />
<rect x="901" y="648" width="1" height="67" fill="#c0c0c0" />
<rect x="909" y="658" width="1" height="57" fill="#c0c0c0" />
<rect x="917" y="671" width="1" height="44" fill="#c0c0c0" />
<rect x="925" y="684" width="1" height="31" fill="#c0c0c0" />
<rect x="933" y="693" width="1" height="22" fill="#c0c0c0" />
<rect x="941" y="697" width="1" height="18" fill="#c0c0c0" />
<rect x="949" y="701" width="1" height="14" fill="#c0c0c0" />
<rect x="957" y="703" width="1" height="12" fill="#c0c0c0" />
<rect x="965" y="702" width="1" height="13" fill="#c0c0c0" />
<rect x="973" y="705" width="1" height="10" fill="#c0c0c0" />
<rect x="981" y="705" width="1" height="10" fill="#c0c0c0" />
<rect x="989" y="704" width="1" height="11" fill="#c0c0c0" />
<rect x="997" y="704" width="1" height="11" fill="#c0c0c0" />
<rect x="1005" y="698" width="1" height="17" fill="#c0c0c0" />
<rect x="1013" y="698" width="1" height="17" fill="#c0c0c0" />
<rect x="1021" y="696" width="1" height="19" fill="#c0c0c0" />
<rect x="1029" y="695" width="1" height="20" fill="#c0c0c0" />
<rect x="1037" y="698" width="1" height="17" fill="#c0c0c0" />
<rect x="1045" y="698" width="1" height="17" fill="#c0c0c0" />
<rect x="1053" y="697" width="1" height="18" fill="#c0c0c0" />
<rect x="1061" y="705" width="1" height="10" fill="#c0c0c0" />
<rect x="1069" y="711" width="1" height="4" fill="#c0c0c0" />
<rect x="1077" y="713" width="1" height="2" fill="#c0c0c0" />
<rect x="1085" y="714" width="1" height="6" fill="#c0c0c0" />
<rect x="1093" y="714" width="1" height="16" fill="#c0c0c0" />
<rect x="1101" y="714" width="1" height="19" fill="#c0c0c0" />
<rect x="1109" y="714" width="1" height="22" fill="#c0c0c0" />
<rect x="1117" y="714" width="1" height="24" fill="#c0c0c0" />
<rect x="1125" y="714" width="1" height="25" fill="#c0c0c0" />
<rect x="1133" y="714" width="1" height="25" fill="#c0c0c0" />
<rect x="1141" y="714" width="1" height="27" fill="#c0c0c0" />
<rect x="1149" y="714" width="1" height="29" fill="#c0c0c0" />
<rect x="1157" y="714" width="1" height="29" fill="#c0c0c0" />
<rect x="1165" y="714" width="1" height="25" fill="#c0c0c0" />
<rect x="1173" y="714" width="1" height="26" fill="#c0c0c0" />
<rect x="1181" y="714" width="1" height="23" fill="#c0c0c0" />
<rect x="1189" y="714" width="1" height="18" fill="#c0c0c0" />
<rect x="1197" y="714" width="1" height="16" fill="#c0c0c0" />
<rect x="1205" y="714" width="1" height="18" fill="#c0c0c0" />
<rect x="1213" y="714" width="1" height="21" fill="#c0c0c0" />
<rect x="1221" y="714" width="1" height="24" fill="#c0c0c0" />
<rect x="1229" y="714" width="1" height="26" fill="#c0c0c0" />
<rect x="1237" y="714" width="1" height="33" fill="#c0c0c0" />
<rect x="1245" y="714" width="1" height="36" fill="#c0c0c0" />
<rect x="1253" y="714" width="1" height="27" fill="#c0c0c0" />
<rect x="1261" y="714" width="1" height="24" fill="#c0c0c0" />
<rect x="1269" y="714" width="1" height="17" fill="#c0c0c0" />
<rect x="1277" y="714" width="1" height="11" fill="#c0c0c0" />
<rect x="1285" y="714" width="1" height="9" fill="#c0c0c0" />
<rect x="1293" y="714" width="1" height="7" fill="#c0c0c0" />
<rect x="1301" y="714" width="1" height="7" fill="#c0c0c0" />
<rect x="1309" y="714" width="1" height="8" fill="#c0c0c0" />
<rect x="1317" y="714" width="1" height="8" fill="#c0c0c0" />
<rect x="1325" y="714" width="1" height="7" fill="#c0c0c0" />
<rect x="1333" y="714" width="1" height="9" fill="#c0c0c0" />
<rect x="1341" y="714" width="1" height="11" fill="#c0c0c0" />
<rect x="1349" y="714" width="1" height="3" fill="#c0c0c0" />
<rect x="1357" y="711" width="1" height="4" fill="#c0c0c0" />
<rect x="1365" y="707" width="1" height="8" fill="#c0c0c0" />
<rect x="1373" y="703" width="1" height="12" fill="#c0c0c0" />
<rect x="1381" y="698" width="1" height="17" fill="#c0c0c0" />
<rect x="1389" y="708" width="1" height="7" fill="#c0c0c0" />
<rect x="1397" y="712" width="1" height="3" fill="#c0c0c0" />
<rect x="1405" y="711" width="1" height="4" fill="#c0c0c0" />
<rect x="1413" y="711" width="1" height="4" fill="#c0c0c0" />
<path d="M216 605h3v1h-3zM222 605h3v1h-3zM228 605h3v1h-3zM211 606h2v1h-2zM234 606h3v1h-3zM240 607h3v1h-3zM246 608h2v1h-2zM205 609h2v1h-2zM252 610h3v1h-3zM258 611h2v1h-2zM264 612h2v1h-2zM270 613h3v1h-3zM276 614h3v1h-3zM282 615h3v1h-3zM288 617h2v1h-2zM861 619h3v1h-3zM295 620h2v1h-2zM855 620h3v1h-3zM867 620h3v1h-3zM850 621h2v1h-2zM873 621h3v1h-3zM300 622h3v1h-3zM879 623h3v1h-3zM306 624h2v1h-2zM885 625h2v1h-2zM313 627h2v1h-2zM892 628h2v1h-2zM318 630h2v1h-2zM898 630h2v1h-2zM331 638h2v1h-2zM910 638h2v1h-2zM336 641h2v1h-2zM343 645h2v1h-2zM349 648h2v1h-2zM354 650h2v1h-2zM361 653h2v1h-2zM366 655h2v1h-2zM468 656h3v1h-3zM474 656h3v1h-3zM372 657h3v1h-3zM462 657h3v1h-3zM480 657h3v1h-3zM450 658h3v1h-3zM456 658h2v1h-2zM378 659h2v1h-2zM444 659h3v1h-3zM487 659h2v1h-2zM438 660h3v1h-3zM384 661h3v1h-3zM426 661h3v1h-3zM432 661h2v1h-2zM390 662h3v1h-3zM420 662h3v1h-3zM493 662h2v1h-2zM396 663h3v1h-3zM402 663h3v1h-3zM408 663h3v1h-3zM414 663h3v1h-3zM499 665h2v1h-2zM511 673h2v1h-2zM952 673h2v1h-2zM26 677h3v1h-3zM32 677h3v1h-3zM38 677h3v1h-3zM2 678h3v1h-3zM8 678h3v1h-3zM14 678h3v1h-3zM20 678h3v1h-3zM44 678h3v1h-3zM50 678h3v1h-3zM958 678h2v1h-2zM56 679h2v1h-2zM522 680h2v1h-2zM62 681h2v1h-2zM68 684h3v1h-3zM528 684h2v1h-2zM74 686h2v1h-2zM970 687h2v1h-2zM80 688h2v1h-2zM534 688h2v1h-2zM86 690h2v1h-2zM134 691h2v1h-2zM975 691h2v1h-2zM92 692h3v1h-3zM541 692h2v1h-2zM98 694h2v1h-2zM128 694h2v1h-2zM547 695h2v1h-2zM982 695h2v1h-2zM104 696h3v1h-3zM122 696h3v1h-3zM110 697h3v1h-3zM116 697h3v1h-3zM552 697h2v1h-2zM987 697h3v1h-3zM1053 698h3v1h-3zM1059 698h3v1h-3zM1065 698h3v1h-3zM1071 698h3v1h-3zM993 699h2v1h-2zM1035 699h3v1h-3zM1041 699h3v1h-3zM1047 699h3v1h-3zM1077 699h2v1h-2zM559 700h2v1h-2zM1029 700h3v1h-3zM999 701h3v1h-3zM1005 701h3v1h-3zM1011 701h3v1h-3zM1017 701h3v1h-3zM1023 701h3v1h-3zM564 702h3v1h-3zM1083 702h2v1h-2zM570 703h2v1h-2zM576 704h2v1h-2zM582 705h3v1h-3zM1090 705h2v1h-2zM588 706h3v1h-3zM594 707h3v1h-3zM600 707h2v1h-2zM606 708h3v1h-3zM1096 708h2v1h-2zM1407 708h3v1h-3zM612 709h3v1h-3zM1402 709h2v1h-2zM618 710h2v1h-2zM1395 710h3v1h-3zM1101 711h2v1h-2zM1389 711h3v1h-3zM624 712h2v1h-2zM1383 712h3v1h-3zM630 714h2v1h-2zM1107 714h2v1h-2zM1377 714h2v1h-2zM636 716h3v1h-3zM1371 716h3v1h-3zM642 717h2v1h-2zM1113 717h2v1h-2zM1365 717h3v1h-3zM768 718h2v1h-2zM1354 718h2v1h-2zM1359 718h3v1h-3zM648 719h3v1h-3zM1348 719h2v1h-2zM654 720h3v1h-3zM660 721h3v1h-3zM762 721h2v1h-2zM1120 721h2v1h-2zM666 722h3v1h-3zM672 722h2v1h-2zM1335 722h3v1h-3zM1341 722h2v1h-2zM678 723h3v1h-3zM684 723h3v1h-3zM750 723h3v1h-3zM756 723h3v1h-3zM1329 723h3v1h-3zM690 724h3v1h-3zM696 724h3v1h-3zM702 724h3v1h-3zM708 724h3v1h-3zM714 724h3v1h-3zM720 724h3v1h-3zM726 724h3v1h-3zM732 724h3v1h-3zM738 724h3v1h-3zM744 724h2v1h-2zM1125 724h2v1h-2zM1324 724h2v1h-2zM1317 726h3v1h-3zM1131 727h2v1h-2zM1311 728h3v1h-3zM1138 730h2v1h-2zM1306 730h2v1h-2zM1143 732h2v1h-2zM1300 732h2v1h-2zM1293 734h3v1h-3zM1149 735h3v1h-3zM1215 735h3v1h-3zM1221 735h3v1h-3zM1227 735h3v1h-3zM1287 735h3v1h-3zM1203 736h3v1h-3zM1209 736h3v1h-3zM1233 736h3v1h-3zM1239 736h3v1h-3zM1245 736h3v1h-3zM1281 736h3v1h-3zM1156 737h2v1h-2zM1197 737h3v1h-3zM1251 737h3v1h-3zM1257 737h3v1h-3zM1275 737h3v1h-3zM1162 738h2v1h-2zM1167 738h3v1h-3zM1186 738h2v1h-2zM1191 738h3v1h-3zM1263 738h3v1h-3zM1269 738h3v1h-3zM1173 739h3v1h-3zM1179 739h3v1h-3zM58 680v1h1v-1zM64 682v1h1v-1zM76 687v1h1v-1zM82 689v1h1v-1zM88 691v1h1v-1zM100 695v1h1v-1zM130 693v1h1v-1zM136 690v1h1v-1zM140 687v1h1v-1zM141 686v1h1v-1zM142 685v1h1v-1zM146 681v1h1v-1zM147 680v1h1v-1zM148 679v1h1v-1zM151 675v1h1v-1zM152 674v1h1v-1zM153 673v1h1v-1zM156 668v2h1v-2zM157 667v1h1v-1zM160 663v1h1v-1zM161 661v2h1v-2zM164 657v1h1v-1zM165 656v1h1v-1zM166 655v1h1v-1zM169 651v1h1v-1zM170 650v1h1v-1zM171 649v1h1v-1zM174 645v1h1v-1zM175 643v2h1v-2zM179 638v2h1v-2zM180 637v1h1v-1zM183 633v1h1v-1zM184 632v1h1v-1zM185 631v1h1v-1zM188 626v2h1v-2zM189 625v1h1v-1zM193 620v2h1v-2zM194 619v1h1v-1zM198 615v1h1v-1zM199 614v1h1v-1zM200 613v1h1v-1zM204 610v1h1v-1zM210 607v1h1v-1zM248 609v1h1v-1zM260 612v1h1v-1zM266 613v1h1v-1zM290 618v1h1v-1zM294 619v1h1v-1zM308 625v1h1v-1zM312 626v1h1v-1zM320 631v1h1v-1zM324 633v1h1v-1zM325 634v1h1v-1zM326 635v1h1v-1zM330 637v1h1v-1zM338 642v1h1v-1zM342 644v1h1v-1zM348 647v1h1v-1zM356 651v1h1v-1zM360 652v1h1v-1zM368 656v1h1v-1zM380 660v1h1v-1zM434 660v1h1v-1zM458 657v1h1v-1zM486 658v1h1v-1zM492 661v1h1v-1zM498 664v1h1v-1zM504 668v1h1v-1zM505 669v1h1v-1zM506 670v1h1v-1zM510 672v1h1v-1zM516 675v1h1v-1zM517 676v1h1v-1zM518 677v1h1v-1zM524 681v1h1v-1zM530 685v1h1v-1zM536 689v1h1v-1zM540 691v1h1v-1zM546 694v1h1v-1zM554 698v1h1v-1zM558 699v1h1v-1zM572 704v1h1v-1zM578 705v1h1v-1zM602 708v1h1v-1zM620 711v1h1v-1zM626 713v1h1v-1zM632 715v1h1v-1zM644 718v1h1v-1zM674 723v1h1v-1zM746 723v1h1v-1zM764 720v1h1v-1zM770 717v1h1v-1zM774 714v1h1v-1zM775 713v1h1v-1zM776 712v1h1v-1zM780 709v1h1v-1zM781 708v1h1v-1zM782 707v1h1v-1zM785 703v1h1v-1zM786 702v1h1v-1zM787 701v1h1v-1zM791 696v2h1v-2zM792 695v1h1v-1zM795 691v1h1v-1zM796 690v1h1v-1zM797 689v1h1v-1zM800 684v2h1v-2zM801 683v1h1v-1zM804 678v2h1v-2zM805 677v1h1v-1zM808 672v2h1v-2zM809 671v1h1v-1zM812 666v2h1v-2zM813 665v1h1v-1zM816 660v2h1v-2zM817 659v1h1v-1zM820 654v2h1v-2zM821 653v1h1v-1zM824 649v1h1v-1zM825 647v2h1v-2zM828 643v1h1v-1zM829 642v1h1v-1zM830 641v1h1v-1zM833 637v1h1v-1zM834 636v1h1v-1zM835 635v1h1v-1zM839 630v2h1v-2zM840 629v1h1v-1zM843 625v1h1v-1zM844 624v1h1v-1zM845 623v1h1v-1zM849 622v1h1v-1zM887 626v1h1v-1zM891 627v1h1v-1zM897 629v1h1v-1zM903 632v1h1v-1zM904 633v1h1v-1zM905 634v1h1v-1zM909 637v1h1v-1zM915 641v1h1v-1zM916 642v1h1v-1zM917 643v1h1v-1zM921 646v1h1v-1zM922 647v1h1v-1zM923 648v1h1v-1zM927 651v1h1v-1zM928 652v1h1v-1zM929 653v1h1v-1zM933 656v1h1v-1zM934 657v1h1v-1zM935 658v1h1v-1zM939 661v1h1v-1zM940 662v1h1v-1zM941 663v1h1v-1zM945 666v1h1v-1zM946 667v1h1v-1zM947 668v1h1v-1zM951 672v1h1v-1zM957 677v1h1v-1zM963 681v1h1v-1zM964 682v1h1v-1zM965 683v1h1v-1zM969 686v1h1v-1zM977 692v1h1v-1zM981 694v1h1v-1zM995 700v1h1v-1zM1079 700v1h1v-1zM1085 703v1h1v-1zM1089 704v1h1v-1zM1095 707v1h1v-1zM1103 712v1h1v-1zM1109 715v1h1v-1zM1115 718v1h1v-1zM1119 720v1h1v-1zM1127 725v1h1v-1zM1133 728v1h1v-1zM1137 729v1h1v-1zM1145 733v1h1v-1zM1155 736v1h1v-1zM1161 737v1h1v-1zM1185 739v1h1v-1zM1299 733v1h1v-1zM1305 731v1h1v-1zM1323 725v1h1v-1zM1343 721v1h1v-1zM1347 720v1h1v-1zM1353 719v1h1v-1zM1379 713v1h1v-1zM1401 710v1h1v-1z" fill="#ff0000" shape-rendering="crispEdges"/>
<line x1="1245.5" y1="735.7" x2="1357.9" y2="700.7" stroke="#ff0000" stroke-width="2.8" shape-rendering="crispEdges"/>
<polygon points="1366.7,698.0 1357.1,706.0 1357.4,700.9 1354.3,696.8" fill="#ff0000" shape-rendering="crispEdges"/>
<line x1="1366.7" y1="698.0" x2="1417.4" y2="717.9" stroke="#ff0000" stroke-width="2.8" shape-rendering="crispEdges"/>
<polygon points="1426.0,721.3 1413.5,721.6 1416.9,717.7 1417.1,712.6" fill="#ff0000" shape-rendering="crispEdges"/>
</g>
<text x="1" y="599" font-size="9.4" fill="#000" text-anchor="start" font-weight="normal" stroke="#000" stroke-width="0.3" >MACD(12,26,9) 0.0207 0.0356</text>
<text x="1659" y="597.7" font-size="9.15" fill="#000" text-anchor="start" font-weight="normal" stroke="#000" stroke-width="0.3" >0.6075</text>
<text x="1660" y="717.2" font-size="9.15" fill="#000" text-anchor="start" font-weight="normal" stroke="#000" stroke-width="0.3" >0.00</text>
<text x="1659" y="753.7" font-size="9.15" fill="#000" text-anchor="start" font-weight="normal" stroke="#000" stroke-width="0.3" >-0.2026</text>
<rect x="1656" y="589" width="1" height="1" fill="#000" />
<rect x="1656" y="714" width="2" height="1" fill="#000" />
<rect x="1656" y="756" width="1" height="1" fill="#000" />
<rect x="0" y="759" width="1656" height="1" fill="#000" />
<rect x="0" y="933" width="1656" height="1" fill="#000" />
<rect x="1655" y="759" width="1" height="175" fill="#000" />
<clipPath id="crsi"><rect x="0" y="760" width="1655" height="173"/></clipPath>
<g clip-path="url(#crsi)">
<path d="M0 795.5 H1655" stroke="#c0c0c0" stroke-width="1" stroke-dasharray="3 3" stroke-dashoffset="2" shape-rendering="crispEdges" fill="none"/>
<path d="M0 846.5 H1655" stroke="#c0c0c0" stroke-width="1" stroke-dasharray="3 3" stroke-dashoffset="2" shape-rendering="crispEdges" fill="none"/>
<path d="M0 907.5 H1655" stroke="#c0c0c0" stroke-width="1" stroke-dasharray="3 3" stroke-dashoffset="2" shape-rendering="crispEdges" fill="none"/>
<path d="M148 792h2v1h-2zM146 793h2v1h-2zM150 793h2v1h-2zM143 794h3v1h-3zM141 795h2v1h-2zM139 796h2v1h-2zM154 796h2v1h-2zM164 796h3v1h-3zM137 797h2v1h-2zM160 797h4v1h-4zM167 797h3v1h-3zM135 798h2v1h-2zM157 798h3v1h-3zM170 798h2v1h-2zM178 798h4v1h-4zM786 798h13v1h-13zM133 799h2v1h-2zM172 799h6v1h-6zM780 799h6v1h-6zM799 799h3v1h-3zM778 800h2v1h-2zM802 800h2v1h-2zM775 801h3v1h-3zM804 801h2v1h-2zM773 802h2v1h-2zM806 802h2v1h-2zM808 803h2v1h-2zM811 805h2v1h-2zM813 806h25v1h-25zM268 809h2v1h-2zM264 810h4v1h-4zM260 811h4v1h-4zM413 811h3v1h-3zM189 812h2v1h-2zM204 812h10v1h-10zM258 812h2v1h-2zM411 812h2v1h-2zM416 812h4v1h-4zM123 813h2v1h-2zM191 813h3v1h-3zM202 813h2v1h-2zM214 813h2v1h-2zM255 813h3v1h-3zM409 813h2v1h-2zM420 813h10v1h-10zM194 814h2v1h-2zM199 814h3v1h-3zM226 814h2v1h-2zM253 814h2v1h-2zM407 814h2v1h-2zM120 815h2v1h-2zM196 815h3v1h-3zM232 815h2v1h-2zM405 815h2v1h-2zM890 815h4v1h-4zM118 816h2v1h-2zM218 816h2v1h-2zM403 816h2v1h-2zM885 816h5v1h-5zM894 816h2v1h-2zM222 817h2v1h-2zM356 817h2v1h-2zM883 817h2v1h-2zM354 818h2v1h-2zM400 818h2v1h-2zM351 819h3v1h-3zM398 819h2v1h-2zM880 819h2v1h-2zM898 819h2v1h-2zM346 820h5v1h-5zM878 820h2v1h-2zM341 821h5v1h-5zM874 821h4v1h-4zM394 822h2v1h-2zM438 822h2v1h-2zM868 822h6v1h-6zM440 823h2v1h-2zM468 823h2v1h-2zM864 823h4v1h-4zM0 824h2v1h-2zM466 824h2v1h-2zM470 824h2v1h-2zM853 824h11v1h-11zM2 825h4v1h-4zM390 825h2v1h-2zM443 825h2v1h-2zM463 825h3v1h-3zM461 826h2v1h-2zM446 827h2v1h-2zM459 827h2v1h-2zM474 827h2v1h-2zM34 828h4v1h-4zM448 828h2v1h-2zM29 829h5v1h-5zM38 829h2v1h-2zM456 829h2v1h-2zM1372 829h10v1h-10zM27 830h2v1h-2zM40 830h2v1h-2zM316 830h3v1h-3zM332 830h2v1h-2zM451 830h2v1h-2zM454 830h2v1h-2zM1370 830h2v1h-2zM25 831h2v1h-2zM312 831h4v1h-4zM319 831h3v1h-3zM330 831h2v1h-2zM1367 831h3v1h-3zM23 832h2v1h-2zM43 832h2v1h-2zM306 832h6v1h-6zM322 832h2v1h-2zM327 832h3v1h-3zM365 832h3v1h-3zM1354 832h13v1h-13zM18 833h5v1h-5zM107 833h2v1h-2zM300 833h6v1h-6zM324 833h3v1h-3zM368 833h4v1h-4zM1349 833h5v1h-5zM13 834h5v1h-5zM285 834h5v1h-5zM296 834h4v1h-4zM372 834h2v1h-2zM1028 834h2v1h-2zM104 835h2v1h-2zM290 835h6v1h-6zM374 835h2v1h-2zM1024 835h4v1h-4zM102 836h2v1h-2zM376 836h2v1h-2zM1020 836h4v1h-4zM548 837h3v1h-3zM1016 837h4v1h-4zM1052 837h2v1h-2zM99 838h2v1h-2zM379 838h2v1h-2zM544 838h4v1h-4zM551 838h3v1h-3zM989 838h3v1h-3zM1013 838h3v1h-3zM1048 838h4v1h-4zM540 839h4v1h-4zM554 839h2v1h-2zM987 839h2v1h-2zM992 839h4v1h-4zM1045 839h3v1h-3zM1276 839h3v1h-3zM96 840h2v1h-2zM538 840h2v1h-2zM556 840h2v1h-2zM985 840h2v1h-2zM996 840h2v1h-2zM1043 840h2v1h-2zM1253 840h2v1h-2zM1274 840h2v1h-2zM1279 840h3v1h-3zM94 841h2v1h-2zM535 841h3v1h-3zM661 841h3v1h-3zM963 841h2v1h-2zM966 841h2v1h-2zM983 841h2v1h-2zM1271 841h3v1h-3zM1282 841h2v1h-2zM1290 841h4v1h-4zM533 842h2v1h-2zM659 842h2v1h-2zM664 842h4v1h-4zM981 842h2v1h-2zM1040 842h2v1h-2zM1269 842h2v1h-2zM1284 842h6v1h-6zM668 843h2v1h-2zM717 843h18v1h-18zM960 843h2v1h-2zM979 843h2v1h-2zM1038 843h2v1h-2zM656 844h2v1h-2zM735 844h3v1h-3zM958 844h2v1h-2zM970 844h2v1h-2zM977 844h2v1h-2zM1189 844h2v1h-2zM1266 844h2v1h-2zM1296 844h2v1h-2zM654 845h2v1h-2zM738 845h2v1h-2zM956 845h2v1h-2zM975 845h2v1h-2zM1187 845h2v1h-2zM1191 845h3v1h-3zM581 846h3v1h-3zM652 846h2v1h-2zM740 846h2v1h-2zM952 846h4v1h-4zM973 846h2v1h-2zM1194 846h2v1h-2zM584 847h4v1h-4zM650 847h2v1h-2zM941 847h11v1h-11zM1184 847h2v1h-2zM1196 847h2v1h-2zM1262 847h2v1h-2zM1397 847h5v1h-5zM1410 847h4v1h-4zM493 848h3v1h-3zM588 848h2v1h-2zM647 848h3v1h-3zM1182 848h2v1h-2zM1317 848h9v1h-9zM1402 848h8v1h-8zM491 849h2v1h-2zM496 849h4v1h-4zM644 849h3v1h-3zM1302 849h2v1h-2zM1315 849h2v1h-2zM500 850h2v1h-2zM642 850h2v1h-2zM1304 850h2v1h-2zM488 851h2v1h-2zM502 851h2v1h-2zM592 851h2v1h-2zM639 851h3v1h-3zM1312 851h2v1h-2zM485 852h3v1h-3zM504 852h2v1h-2zM516 852h2v1h-2zM611 852h2v1h-2zM637 852h2v1h-2zM1165 852h2v1h-2zM1307 852h2v1h-2zM1310 852h2v1h-2zM514 853h2v1h-2zM635 853h2v1h-2zM1167 853h2v1h-2zM1176 853h2v1h-2zM1339 853h2v1h-2zM60 854h4v1h-4zM507 854h2v1h-2zM511 854h3v1h-3zM608 854h2v1h-2zM1169 854h2v1h-2zM56 855h4v1h-4zM64 855h4v1h-4zM509 855h2v1h-2zM597 855h5v1h-5zM606 855h2v1h-2zM632 855h2v1h-2zM1171 855h2v1h-2zM1336 855h2v1h-2zM53 856h3v1h-3zM68 856h2v1h-2zM602 856h4v1h-4zM630 856h2v1h-2zM1334 856h2v1h-2zM1132 857h3v1h-3zM627 858h2v1h-2zM677 858h2v1h-2zM917 858h2v1h-2zM1061 858h5v1h-5zM1114 858h8v1h-8zM1128 858h4v1h-4zM1135 858h3v1h-3zM625 859h2v1h-2zM679 859h2v1h-2zM692 859h2v1h-2zM919 859h2v1h-2zM931 859h2v1h-2zM1066 859h4v1h-4zM1101 859h13v1h-13zM1122 859h6v1h-6zM1138 859h2v1h-2zM524 860h2v1h-2zM623 860h2v1h-2zM681 860h2v1h-2zM690 860h2v1h-2zM921 860h2v1h-2zM929 860h2v1h-2zM1140 860h3v1h-3zM1205 860h2v1h-2zM1389 860h2v1h-2zM621 861h2v1h-2zM683 861h2v1h-2zM687 861h3v1h-3zM923 861h2v1h-2zM927 861h2v1h-2zM1143 861h2v1h-2zM1155 861h2v1h-2zM1207 861h2v1h-2zM685 862h2v1h-2zM925 862h2v1h-2zM1145 862h2v1h-2zM1153 862h2v1h-2zM1209 862h2v1h-2zM1147 863h2v1h-2zM1151 863h2v1h-2zM1211 863h2v1h-2zM1149 864h2v1h-2zM1213 864h5v1h-5zM1218 865h12v1h-12zM6 826v1h1v-1zM7 827v1h1v-1zM8 828v1h1v-1zM9 829v2h1v-2zM10 831v1h1v-1zM11 832v1h1v-1zM12 833v1h1v-1zM42 831v1h1v-1zM45 833v2h1v-2zM46 835v3h1v-3zM47 838v3h1v-3zM48 841v3h1v-3zM49 844v2h1v-2zM50 846v3h1v-3zM51 849v3h1v-3zM52 852v3h1v-3zM53 855v1h1v-1zM70 854v2h1v-2zM71 852v2h1v-2zM72 850v2h1v-2zM73 849v1h1v-1zM74 847v2h1v-2zM75 845v2h1v-2zM76 843v2h1v-2zM77 842v1h1v-1zM78 841v1h1v-1zM79 840v1h1v-1zM80 839v1h1v-1zM81 838v1h1v-1zM82 837v1h1v-1zM83 836v1h1v-1zM84 835v1h1v-1zM85 834v1h1v-1zM86 835v1h1v-1zM87 836v1h1v-1zM88 837v1h1v-1zM89 838v1h1v-1zM90 839v1h1v-1zM91 840v1h1v-1zM92 841v1h1v-1zM93 842v1h1v-1zM98 839v1h1v-1zM101 837v1h1v-1zM106 834v1h1v-1zM109 832v1h1v-1zM110 830v2h1v-2zM111 828v2h1v-2zM112 826v2h1v-2zM113 824v2h1v-2zM114 822v2h1v-2zM115 820v2h1v-2zM116 818v2h1v-2zM117 817v1h1v-1zM122 814v1h1v-1zM125 812v1h1v-1zM126 810v2h1v-2zM127 808v2h1v-2zM128 807v1h1v-1zM129 805v2h1v-2zM130 804v1h1v-1zM131 802v2h1v-2zM132 800v2h1v-2zM152 794v1h1v-1zM153 795v1h1v-1zM156 797v1h1v-1zM182 799v2h1v-2zM183 801v2h1v-2zM184 803v2h1v-2zM185 805v1h1v-1zM186 806v2h1v-2zM187 808v2h1v-2zM188 810v2h1v-2zM216 814v1h1v-1zM217 815v1h1v-1zM220 817v1h1v-1zM221 818v1h1v-1zM224 816v1h1v-1zM225 815v1h1v-1zM228 813v1h1v-1zM229 812v1h1v-1zM230 813v1h1v-1zM231 814v1h1v-1zM234 816v1h1v-1zM235 817v1h1v-1zM236 818v1h1v-1zM237 819v1h1v-1zM238 817v2h1v-2zM239 815v2h1v-2zM240 814v1h1v-1zM241 812v2h1v-2zM242 811v1h1v-1zM243 809v2h1v-2zM244 807v2h1v-2zM245 806v1h1v-1zM246 807v1h1v-1zM247 808v1h1v-1zM248 809v1h1v-1zM249 810v1h1v-1zM250 811v1h1v-1zM251 812v1h1v-1zM252 813v1h1v-1zM270 810v1h1v-1zM271 811v2h1v-2zM272 813v1h1v-1zM273 814v1h1v-1zM274 815v1h1v-1zM275 816v2h1v-2zM276 818v1h1v-1zM277 819v1h1v-1zM278 820v2h1v-2zM279 822v2h1v-2zM280 824v2h1v-2zM281 826v2h1v-2zM282 828v2h1v-2zM283 830v2h1v-2zM284 832v2h1v-2zM334 829v1h1v-1zM335 828v1h1v-1zM336 827v1h1v-1zM337 825v2h1v-2zM338 824v1h1v-1zM339 823v1h1v-1zM340 822v1h1v-1zM358 818v2h1v-2zM359 820v2h1v-2zM360 822v2h1v-2zM361 824v2h1v-2zM362 826v2h1v-2zM363 828v2h1v-2zM364 830v2h1v-2zM378 837v1h1v-1zM381 839v1h1v-1zM382 837v2h1v-2zM383 835v2h1v-2zM384 834v1h1v-1zM385 832v2h1v-2zM386 831v1h1v-1zM387 829v2h1v-2zM388 827v2h1v-2zM389 826v1h1v-1zM392 824v1h1v-1zM393 823v1h1v-1zM396 821v1h1v-1zM397 820v1h1v-1zM402 817v1h1v-1zM430 814v1h1v-1zM431 815v1h1v-1zM432 816v1h1v-1zM433 817v1h1v-1zM434 818v1h1v-1zM435 819v1h1v-1zM436 820v1h1v-1zM437 821v1h1v-1zM442 824v1h1v-1zM445 826v1h1v-1zM450 829v1h1v-1zM453 831v1h1v-1zM458 828v1h1v-1zM472 825v1h1v-1zM473 826v1h1v-1zM476 828v1h1v-1zM477 829v2h1v-2zM478 831v3h1v-3zM479 834v3h1v-3zM480 837v3h1v-3zM481 840v3h1v-3zM482 843v3h1v-3zM483 846v3h1v-3zM484 849v3h1v-3zM485 853v1h1v-1zM490 850v1h1v-1zM506 853v1h1v-1zM518 853v1h1v-1zM519 854v1h1v-1zM520 855v1h1v-1zM521 856v2h1v-2zM522 858v1h1v-1zM523 859v1h1v-1zM525 861v1h1v-1zM526 858v2h1v-2zM527 856v2h1v-2zM528 853v3h1v-3zM529 851v2h1v-2zM530 848v3h1v-3zM531 846v2h1v-2zM532 844v2h1v-2zM533 843v1h1v-1zM558 841v1h1v-1zM559 842v1h1v-1zM560 843v1h1v-1zM561 844v2h1v-2zM562 846v1h1v-1zM563 847v1h1v-1zM564 848v1h1v-1zM565 849v1h1v-1zM566 847v2h1v-2zM567 846v1h1v-1zM568 845v1h1v-1zM569 843v2h1v-2zM570 842v1h1v-1zM571 841v1h1v-1zM572 839v2h1v-2zM573 838v1h1v-1zM574 839v1h1v-1zM575 840v1h1v-1zM576 841v1h1v-1zM577 842v1h1v-1zM578 843v1h1v-1zM579 844v1h1v-1zM580 845v1h1v-1zM590 849v1h1v-1zM591 850v1h1v-1zM594 852v1h1v-1zM595 853v1h1v-1zM596 854v1h1v-1zM610 853v1h1v-1zM613 851v1h1v-1zM614 852v1h1v-1zM615 853v2h1v-2zM616 855v1h1v-1zM617 856v1h1v-1zM618 857v1h1v-1zM619 858v2h1v-2zM620 860v1h1v-1zM629 857v1h1v-1zM634 854v1h1v-1zM658 843v1h1v-1zM670 844v2h1v-2zM671 846v2h1v-2zM672 848v2h1v-2zM673 850v2h1v-2zM674 852v2h1v-2zM675 854v2h1v-2zM676 856v2h1v-2zM694 857v2h1v-2zM695 855v2h1v-2zM696 854v1h1v-1zM697 852v2h1v-2zM698 851v1h1v-1zM699 849v2h1v-2zM700 847v2h1v-2zM701 846v1h1v-1zM702 847v1h1v-1zM703 848v1h1v-1zM704 849v1h1v-1zM705 850v1h1v-1zM706 851v1h1v-1zM707 852v1h1v-1zM708 853v1h1v-1zM709 854v1h1v-1zM710 852v2h1v-2zM711 851v1h1v-1zM712 850v1h1v-1zM713 848v2h1v-2zM714 847v1h1v-1zM715 846v1h1v-1zM716 844v2h1v-2zM742 847v1h1v-1zM743 848v1h1v-1zM744 849v1h1v-1zM745 850v1h1v-1zM746 851v1h1v-1zM747 852v1h1v-1zM748 853v1h1v-1zM749 854v1h1v-1zM750 853v1h1v-1zM751 852v1h1v-1zM752 851v1h1v-1zM753 850v1h1v-1zM754 849v1h1v-1zM755 848v1h1v-1zM756 847v1h1v-1zM757 845v2h1v-2zM758 841v4h1v-4zM759 837v4h1v-4zM760 834v3h1v-3zM761 830v4h1v-4zM762 827v3h1v-3zM763 823v4h1v-4zM764 819v4h1v-4zM765 817v2h1v-2zM766 815v2h1v-2zM767 813v2h1v-2zM768 811v2h1v-2zM769 809v2h1v-2zM770 807v2h1v-2zM771 805v2h1v-2zM772 803v2h1v-2zM810 804v1h1v-1zM838 807v1h1v-1zM839 808v1h1v-1zM840 809v1h1v-1zM841 810v1h1v-1zM842 811v1h1v-1zM843 812v1h1v-1zM844 813v1h1v-1zM845 814v1h1v-1zM846 815v1h1v-1zM847 816v2h1v-2zM848 818v1h1v-1zM849 819v1h1v-1zM850 820v1h1v-1zM851 821v2h1v-2zM852 823v1h1v-1zM882 818v1h1v-1zM896 817v1h1v-1zM897 818v1h1v-1zM900 820v1h1v-1zM901 821v2h1v-2zM902 823v3h1v-3zM903 826v2h1v-2zM904 828v3h1v-3zM905 831v3h1v-3zM906 834v3h1v-3zM907 837v2h1v-2zM908 839v3h1v-3zM909 842v2h1v-2zM910 844v2h1v-2zM911 846v2h1v-2zM912 848v2h1v-2zM913 850v2h1v-2zM914 852v2h1v-2zM915 854v2h1v-2zM916 856v2h1v-2zM933 858v1h1v-1zM934 856v2h1v-2zM935 855v1h1v-1zM936 854v1h1v-1zM937 852v2h1v-2zM938 851v1h1v-1zM939 850v1h1v-1zM940 848v2h1v-2zM962 842v1h1v-1zM965 840v1h1v-1zM968 842v1h1v-1zM969 843v1h1v-1zM972 845v1h1v-1zM997 839v1h1v-1zM998 837v2h1v-2zM999 835v2h1v-2zM1000 833v2h1v-2zM1001 831v2h1v-2zM1002 829v2h1v-2zM1003 827v2h1v-2zM1004 825v2h1v-2zM1005 824v1h1v-1zM1006 825v2h1v-2zM1007 827v2h1v-2zM1008 829v2h1v-2zM1009 831v1h1v-1zM1010 832v2h1v-2zM1011 834v2h1v-2zM1012 836v2h1v-2zM1030 835v1h1v-1zM1031 836v2h1v-2zM1032 838v1h1v-1zM1033 839v1h1v-1zM1034 840v1h1v-1zM1035 841v2h1v-2zM1036 843v1h1v-1zM1037 844v1h1v-1zM1042 841v1h1v-1zM1053 838v1h1v-1zM1054 839v2h1v-2zM1055 841v3h1v-3zM1056 844v3h1v-3zM1057 847v2h1v-2zM1058 849v3h1v-3zM1059 852v3h1v-3zM1060 855v2h1v-2zM1061 857v1h1v-1zM1070 858v1h1v-1zM1071 857v1h1v-1zM1072 856v1h1v-1zM1073 854v2h1v-2zM1074 853v1h1v-1zM1075 852v1h1v-1zM1076 851v1h1v-1zM1077 850v1h1v-1zM1078 851v1h1v-1zM1079 852v2h1v-2zM1080 854v1h1v-1zM1081 855v1h1v-1zM1082 856v1h1v-1zM1083 857v2h1v-2zM1084 859v1h1v-1zM1085 860v1h1v-1zM1086 861v1h1v-1zM1087 862v2h1v-2zM1088 864v1h1v-1zM1089 865v1h1v-1zM1090 866v1h1v-1zM1091 867v2h1v-2zM1092 869v1h1v-1zM1093 870v1h1v-1zM1094 868v2h1v-2zM1095 867v1h1v-1zM1096 866v1h1v-1zM1097 864v2h1v-2zM1098 863v1h1v-1zM1099 862v1h1v-1zM1100 860v2h1v-2zM1157 860v1h1v-1zM1158 859v1h1v-1zM1159 858v1h1v-1zM1160 857v1h1v-1zM1161 856v1h1v-1zM1162 855v1h1v-1zM1163 854v1h1v-1zM1164 853v1h1v-1zM1173 856v1h1v-1zM1174 855v1h1v-1zM1175 854v1h1v-1zM1178 852v1h1v-1zM1179 851v1h1v-1zM1180 850v1h1v-1zM1181 849v1h1v-1zM1186 846v1h1v-1zM1198 848v2h1v-2zM1199 850v2h1v-2zM1200 852v1h1v-1zM1201 853v2h1v-2zM1202 855v1h1v-1zM1203 856v2h1v-2zM1204 858v2h1v-2zM1230 866v2h1v-2zM1231 868v2h1v-2zM1232 870v1h1v-1zM1233 871v2h1v-2zM1234 873v1h1v-1zM1235 874v2h1v-2zM1236 876v2h1v-2zM1237 878v1h1v-1zM1238 877v1h1v-1zM1239 876v1h1v-1zM1240 875v1h1v-1zM1241 873v2h1v-2zM1242 872v1h1v-1zM1243 871v1h1v-1zM1244 870v1h1v-1zM1245 868v2h1v-2zM1246 864v4h1v-4zM1247 860v4h1v-4zM1248 856v4h1v-4zM1249 853v3h1v-3zM1250 849v4h1v-4zM1251 845v4h1v-4zM1252 841v4h1v-4zM1253 839v1h1v-1zM1255 841v1h1v-1zM1256 842v1h1v-1zM1257 843v2h1v-2zM1258 845v1h1v-1zM1259 846v1h1v-1zM1260 847v1h1v-1zM1261 848v1h1v-1zM1264 846v1h1v-1zM1265 845v1h1v-1zM1268 843v1h1v-1zM1294 842v1h1v-1zM1295 843v1h1v-1zM1298 845v1h1v-1zM1299 846v1h1v-1zM1300 847v1h1v-1zM1301 848v1h1v-1zM1306 851v1h1v-1zM1309 853v1h1v-1zM1314 850v1h1v-1zM1326 849v1h1v-1zM1327 850v1h1v-1zM1328 851v1h1v-1zM1329 852v2h1v-2zM1330 854v1h1v-1zM1331 855v1h1v-1zM1332 856v1h1v-1zM1333 857v1h1v-1zM1338 854v1h1v-1zM1341 851v2h1v-2zM1342 849v2h1v-2zM1343 847v2h1v-2zM1344 844v3h1v-3zM1345 842v2h1v-2zM1346 839v3h1v-3zM1347 837v2h1v-2zM1348 835v2h1v-2zM1349 834v1h1v-1zM1381 830v2h1v-2zM1382 832v4h1v-4zM1383 836v4h1v-4zM1384 840v4h1v-4zM1385 844v4h1v-4zM1386 848v4h1v-4zM1387 852v4h1v-4zM1388 856v4h1v-4zM1389 861v1h1v-1zM1390 859v1h1v-1zM1391 857v2h1v-2zM1392 855v2h1v-2zM1393 854v1h1v-1zM1394 852v2h1v-2zM1395 850v2h1v-2zM1396 848v2h1v-2z" fill="#1e90ff" shape-rendering="crispEdges"/>
<line x1="1241.0" y1="879.5" x2="1363.9" y2="834.7" stroke="#ff0000" stroke-width="2.8" shape-rendering="crispEdges"/>
<polygon points="1372.5,831.6 1363.3,840.0 1363.3,834.9 1360.1,831.0" fill="#ff0000" shape-rendering="crispEdges"/>
<line x1="1372.5" y1="832.0" x2="1386.1" y2="849.1" stroke="#ff0000" stroke-width="2.8" shape-rendering="crispEdges"/>
<polygon points="1391.8,856.3 1380.9,850.3 1385.7,848.6 1388.4,844.3" fill="#ff0000" shape-rendering="crispEdges"/>
<line x1="1392.0" y1="850.7" x2="1420.8" y2="848.3" stroke="#ff0000" stroke-width="2.8" shape-rendering="crispEdges"/>
<polygon points="1430.0,847.6 1418.9,853.3 1420.3,848.4 1418.1,843.8" fill="#ff0000" shape-rendering="crispEdges"/>
</g>
<text x="1" y="771.5" font-size="9.4" fill="#000" text-anchor="start" font-weight="normal" stroke="#000" stroke-width="0.3" >RSI(14) 49.8291</text>
<text x="1659" y="769.7" font-size="9.15" fill="#000" text-anchor="start" font-weight="normal" stroke="#000" stroke-width="0.3" >100</text>
<text x="1658" y="798.7" font-size="9.15" fill="#000" text-anchor="start" font-weight="normal" stroke="#000" stroke-width="0.3" >80</text>
<text x="1658" y="849.7" font-size="9.15" fill="#000" text-anchor="start" font-weight="normal" stroke="#000" stroke-width="0.3" >50</text>
<text x="1658" y="910.7" font-size="9.15" fill="#000" text-anchor="start" font-weight="normal" stroke="#000" stroke-width="0.3" >15</text>
<text x="1659" y="929.7" font-size="9.15" fill="#000" text-anchor="start" font-weight="normal" stroke="#000" stroke-width="0.3" >0</text>
<rect x="1656" y="761" width="1" height="1" fill="#000" />
<rect x="1656" y="932" width="1" height="1" fill="#000" />
<rect x="-3" y="934" width="1" height="3" fill="#000" />
<text x="-4.5" y="945" font-size="9.6" fill="#000" text-anchor="start" font-weight="normal" stroke="#000" stroke-width="0.3" >5 May 2021</text>
<rect x="61" y="934" width="1" height="3" fill="#000" />
<text x="59.5" y="945" font-size="9.6" fill="#000" text-anchor="start" font-weight="normal" stroke="#000" stroke-width="0.3" >6 May 16:00</text>
<rect x="125" y="934" width="1" height="3" fill="#000" />
<text x="123.5" y="945" font-size="9.6" fill="#000" text-anchor="start" font-weight="normal" stroke="#000" stroke-width="0.3" >10 May 00:00</text>
<rect x="189" y="934" width="1" height="3" fill="#000" />
<text x="187.5" y="945" font-size="9.6" fill="#000" text-anchor="start" font-weight="normal" stroke="#000" stroke-width="0.3" >11 May 08:00</text>
<rect x="253" y="934" width="1" height="3" fill="#000" />
<text x="251.5" y="945" font-size="9.6" fill="#000" text-anchor="start" font-weight="normal" stroke="#000" stroke-width="0.3" >12 May 16:00</text>
<rect x="317" y="934" width="1" height="3" fill="#000" />
<text x="315.5" y="945" font-size="9.6" fill="#000" text-anchor="start" font-weight="normal" stroke="#000" stroke-width="0.3" >14 May 00:00</text>
<rect x="381" y="934" width="1" height="3" fill="#000" />
<text x="379.5" y="945" font-size="9.6" fill="#000" text-anchor="start" font-weight="normal" stroke="#000" stroke-width="0.3" >17 May 08:00</text>
<rect x="445" y="934" width="1" height="3" fill="#000" />
<text x="443.5" y="945" font-size="9.6" fill="#000" text-anchor="start" font-weight="normal" stroke="#000" stroke-width="0.3" >18 May 16:00</text>
<rect x="509" y="934" width="1" height="3" fill="#000" />
<text x="507.5" y="945" font-size="9.6" fill="#000" text-anchor="start" font-weight="normal" stroke="#000" stroke-width="0.3" >20 May 00:00</text>
<rect x="573" y="934" width="1" height="3" fill="#000" />
<text x="571.5" y="945" font-size="9.6" fill="#000" text-anchor="start" font-weight="normal" stroke="#000" stroke-width="0.3" >21 May 08:00</text>
<rect x="637" y="934" width="1" height="3" fill="#000" />
<text x="635.5" y="945" font-size="9.6" fill="#000" text-anchor="start" font-weight="normal" stroke="#000" stroke-width="0.3" >24 May 16:00</text>
<rect x="701" y="934" width="1" height="3" fill="#000" />
<text x="699.5" y="945" font-size="9.6" fill="#000" text-anchor="start" font-weight="normal" stroke="#000" stroke-width="0.3" >26 May 00:00</text>
<rect x="765" y="934" width="1" height="3" fill="#000" />
<text x="763.5" y="945" font-size="9.6" fill="#000" text-anchor="start" font-weight="normal" stroke="#000" stroke-width="0.3" >27 May 08:00</text>
<rect x="829" y="934" width="1" height="3" fill="#000" />
<text x="827.5" y="945" font-size="9.6" fill="#000" text-anchor="start" font-weight="normal" stroke="#000" stroke-width="0.3" >28 May 16:00</text>
<rect x="893" y="934" width="1" height="3" fill="#000" />
<text x="891.5" y="945" font-size="9.6" fill="#000" text-anchor="start" font-weight="normal" stroke="#000" stroke-width="0.3" >1 Jun 00:00</text>
<rect x="957" y="934" width="1" height="3" fill="#000" />
<text x="955.5" y="945" font-size="9.6" fill="#000" text-anchor="start" font-weight="normal" stroke="#000" stroke-width="0.3" >2 Jun 08:00</text>
<rect x="1021" y="934" width="1" height="3" fill="#000" />
<text x="1019.5" y="945" font-size="9.6" fill="#000" text-anchor="start" font-weight="normal" stroke="#000" stroke-width="0.3" >3 Jun 16:00</text>
<rect x="1085" y="934" width="1" height="3" fill="#000" />
<text x="1083.5" y="945" font-size="9.6" fill="#000" text-anchor="start" font-weight="normal" stroke="#000" stroke-width="0.3" >7 Jun 00:00</text>
<rect x="1149" y="934" width="1" height="3" fill="#000" />
<text x="1147.5" y="945" font-size="9.6" fill="#000" text-anchor="start" font-weight="normal" stroke="#000" stroke-width="0.3" >8 Jun 08:00</text>
<rect x="1213" y="934" width="1" height="3" fill="#000" />
<text x="1211.5" y="945" font-size="9.6" fill="#000" text-anchor="start" font-weight="normal" stroke="#000" stroke-width="0.3" >9 Jun 16:00</text>
<rect x="1277" y="934" width="1" height="3" fill="#000" />
<text x="1275.5" y="945" font-size="9.6" fill="#000" text-anchor="start" font-weight="normal" stroke="#000" stroke-width="0.3" >11 Jun 00:00</text>
<rect x="1341" y="934" width="1" height="3" fill="#000" />
<text x="1339.5" y="945" font-size="9.6" fill="#000" text-anchor="start" font-weight="normal" stroke="#000" stroke-width="0.3" >14 Jun 08:00</text>
<rect x="1405" y="934" width="1" height="3" fill="#000" />
<text x="1403.5" y="945" font-size="9.6" fill="#000" text-anchor="start" font-weight="normal" stroke="#000" stroke-width="0.3" >15 Jun 16:00</text>
<rect x="1700" y="30" width="1" height="916" fill="#fafafa" />
<rect x="1701" y="30" width="1" height="916" fill="#e3e3e3" />
<g id="panel">
<defs>
<linearGradient id="pg" x1="0" y1="0" x2="0" y2="1"><stop offset="0" stop-color="#5656f6"/><stop offset="0.45" stop-color="#2a2ad8"/><stop offset="1" stop-color="#0000a4"/></linearGradient>
<linearGradient id="bg2" x1="0" y1="0" x2="0" y2="1"><stop offset="0" stop-color="#f4f4f4"/><stop offset="0.5" stop-color="#e0e0e0"/><stop offset="1" stop-color="#cfcfcf"/></linearGradient>
</defs>
<path d="M0 52 H52 V76 H109 V109 H0 Z" fill="url(#pg)"/>
<path d="M219 52 H167 V76 H111 V109 H219 Z" fill="url(#pg)"/>
<rect x="4" y="76" width="44" height="1" fill="#9a9af8"/>
<rect x="171" y="76" width="44" height="1" fill="#9a9af8"/>
<rect x="54.5" y="52.500" width="110" height="21" fill="#ffffff" stroke="#a8a8b0" stroke-width="1"/>
<rect x="55.500" y="53.5" width="19.5" height="19" fill="url(#bg2)" stroke="#b8b8b8" stroke-width="1"/>
<rect x="144" y="53.5" width="19.500" height="19" fill="url(#bg2)" stroke="#b8b8b8" stroke-width="1"/>
<path d="M62 61 h5 l-2.5 3 z" fill="#5868c0"/>
<path d="M151 64 h5 l-2.5 -3 z" fill="#5868c0"/>
<text x="140" y="67" font-size="11" fill="#000" text-anchor="end">1.00</text>
<text x="25.500" y="68" font-size="11" fill="#ffffff" text-anchor="middle">SELL</text>
<text x="192.500" y="68" font-size="11" fill="#ffffff" text-anchor="middle">BUY</text>
<text x="23" y="104" font-size="12.3" font-weight="bold" fill="#ffffff">154</text>
<text transform="translate(47.5 104) scale(1 1.12)" font-size="31.500" fill="#ffffff">96</text>
<text x="87" y="88" font-size="11.5" font-weight="bold" fill="#ffffff">6</text>
<text x="133" y="104" font-size="12.3" font-weight="bold" fill="#ffffff">155</text>
<text transform="translate(157.500 104) scale(1 1.12)" font-size="31.500" fill="#ffffff">05</text>
<text x="198" y="88" font-size="11.5" font-weight="bold" fill="#ffffff">2</text>
</g>
<g id="toolbar">
<rect x="0" y="0" width="1702" height="30" fill="#f0f0f0"/>
<rect x="0" y="0" width="1702" height="1" fill="#f0f0f0"/>
<rect x="0" y="1" width="1702" height="1" fill="#a0a0a0"/>
<rect x="0" y="2" width="1702" height="1" fill="#ffffff"/>
<rect x="0" y="28" width="1702" height="1" fill="#a0a0a0"/>
<rect x="0" y="29" width="1702" height="1" fill="#696969"/>
<rect x="0" y="30" width="1702" height="2" fill="#ffffff"/>
<defs>
<pattern id="chk" width="2" height="2" patternUnits="userSpaceOnUse"><rect width="2" height="2" fill="#ffffff"/><rect width="1" height="1" fill="#f0f0f0"/><rect x="1" y="1" width="1" height="1" fill="#f0f0f0"/></pattern>
<linearGradient id="gold" x1="0" y1="0" x2="1" y2="1"><stop offset="0" stop-color="#ffe680"/><stop offset="0.5" stop-color="#e8b820"/><stop offset="1" stop-color="#b07810"/></linearGradient>
<linearGradient id="blu" x1="0" y1="0" x2="0" y2="1"><stop offset="0" stop-color="#4aa8f0"/><stop offset="1" stop-color="#1060c8"/></linearGradient>
<linearGradient id="grn" x1="0" y1="0" x2="0" y2="1"><stop offset="0" stop-color="#60e860"/><stop offset="1" stop-color="#10a010"/></linearGradient>
<radialGradient id="lens" cx="0.4" cy="0.35" r="0.7"><stop offset="0" stop-color="#ffffff"/><stop offset="1" stop-color="#b8d8f4"/></radialGradient>
<radialGradient id="badge" cx="0.5" cy="0.3" r="0.8"><stop offset="0" stop-color="#f06040"/><stop offset="1" stop-color="#d02010"/></radialGradient>
</defs>
<circle cx="1" cy="15" r="5.5" fill="url(#lens)" stroke="#88b8e0" stroke-width="1.2"/>
<path d="M4 19.5 L8 23.5" stroke="#c09828" stroke-width="3" stroke-linecap="round"/>
<rect x="0" y="9" width="3" height="4" fill="#c8c8c8"/>
<rect x="16" y="5" width="1" height="21" fill="#a0a0a0"/>
<rect x="17" y="5" width="1" height="21" fill="#ffffff"/>
<path d="M26.5 9.5 h8 l3.5 3.5 v9.5 h-11.5 z" fill="#fcfcfc" stroke="#808080" stroke-width="1"/>
<path d="M34.5 9.5 v3.5 h3.5" fill="#e0e0e0" stroke="#808080" stroke-width="0.8"/>
<rect x="28" y="12.5" width="6" height="1" fill="#909090"/>
<rect x="28" y="15.5" width="6" height="1" fill="#909090"/>
<rect x="28" y="18.5" width="6" height="1" fill="#909090"/>
<path d="M34.666666666666664 14 h3.6666666666666665 v3.6666666666666665 h3.6666666666666665 v3.6666666666666665 h-3.6666666666666665 v3.6666666666666665 h-3.6666666666666665 v-3.6666666666666665 h-3.6666666666666665 v-3.6666666666666665 h3.6666666666666665 z" fill="url(#grn)" stroke="#108010" stroke-width="0.8"/>
<text x="45" y="20.3" font-size="12" fill="#000">新订单</text>
<path d="M93.5 17.5 L101 9.5 L109 15 L103.5 23.5 Z" fill="url(#gold)" stroke="#a87010" stroke-width="0.9"/>
<path d="M93.5 17.5 L103.5 23.5 L109 15" fill="none" stroke="#8a5808" stroke-width="1.3"/>
<path d="M95 16.5 L101.5 10.5" stroke="#fff4b0" stroke-width="1"/>
<path d="M124 8.5 l8 -0.5 l2 1.5 v9 h-10 z" fill="url(#blu)" stroke="#1858b0" stroke-width="0.8"/>
<rect x="127" y="12" width="5" height="1.2" fill="#e0f0ff"/><rect x="127" y="10" width="5" height="1" fill="#b0d8ff"/>
<path d="M123.5 23.5 a3 3 0 0 1 0 -6 a4 4 0 0 1 7 -1.5 a3.2 3.2 0 0 1 6 1.8 a2.8 2.8 0 0 1 -1 5.7 z" fill="#e8f0fc" stroke="#6890c8" stroke-width="1"/>
<circle cx="157" cy="16" r="7.5" fill="#d8ead8" stroke="#a8c0e0" stroke-width="1"/>
<path d="M157 16 L157 23.5 A7.5 7.5 0 0 0 164.4 17 Z" fill="#58b058"/>
<circle cx="157" cy="16" r="5" fill="none" stroke="#6890d8" stroke-width="1"/>
<circle cx="157" cy="16" r="2.8" fill="none" stroke="#5080d0" stroke-width="1"/>
<circle cx="157" cy="15.5" r="1.4" fill="#2858c0"/>
<rect x="156.5" y="16" width="1.2" height="7.5" fill="#38a038"/>
<path d="M177.5 15 L191 14.5 L188 22 L183 24 Z" fill="#f8d840" stroke="#c8a010" stroke-width="0.8"/>
<ellipse cx="184" cy="12.8" rx="8" ry="3" fill="#58a8e0" stroke="#2878b8" stroke-width="0.8"/>
<path d="M179.5 12 q4.5 -7 9 0 z" fill="#68b8f0" stroke="#2878b8" stroke-width="0.8"/>
<circle cx="188.5" cy="19.8" r="4.2" fill="#d82818" stroke="#a01808" stroke-width="0.6"/>
<rect x="186.9" y="18.2" width="3.2" height="3.2" fill="#ffffff"/>
<text x="197.3" y="20.3" font-size="12" fill="#000">自动交易</text>
<rect x="252" y="3" width="1" height="25" fill="#a0a0a0"/>
<rect x="253" y="3" width="1" height="25" fill="#ffffff"/>
<rect x="256" y="6" width="3" height="1" fill="#a8a8a8"/>
<rect x="256" y="8" width="3" height="1" fill="#a8a8a8"/>
<rect x="256" y="10" width="3" height="1" fill="#a8a8a8"/>
<rect x="256" y="12" width="3" height="1" fill="#a8a8a8"/>
<rect x="256" y="14" width="3" height="1" fill="#a8a8a8"/>
<rect x="256" y="16" width="3" height="1" fill="#a8a8a8"/>
<rect x="256" y="18" width="3" height="1" fill="#a8a8a8"/>
<rect x="256" y="20" width="3" height="1" fill="#a8a8a8"/>
<rect x="256" y="22" width="3" height="1" fill="#a8a8a8"/>
<rect x="256" y="24" width="3" height="1" fill="#a8a8a8"/>
<g stroke="#505050" stroke-width="1.2" fill="none"><path d="M270.5 10.5 V24"/><path d="M268 21.5 H281"/></g>
<path d="M270.5 9 l-1.8 2.6 h3.6 z" fill="#505050"/><path d="M282.5 21.5 l-2.6 -1.8 v3.6 z" fill="#505050"/>
<path d="M274.5 20 h2.5 v-7.5 h2.5" fill="none" stroke="#208020" stroke-width="1.3"/>
<rect x="290" y="4" width="25" height="22" fill="url(#chk)"/>
<rect x="290" y="4" width="25" height="1" fill="#a0a0a0"/>
<rect x="290" y="4" width="1" height="22" fill="#a0a0a0"/>
<rect x="290" y="25" width="25" height="1" fill="#ffffff"/>
<rect x="314" y="4" width="1" height="22" fill="#ffffff"/>
<g stroke="#505050" stroke-width="1.2" fill="none"><path d="M298.5 10.5 V24"/><path d="M296 21.5 H309"/></g>
<path d="M298.5 9 l-1.8 2.6 h3.6 z" fill="#505050"/><path d="M310.5 21.5 l-2.6 -1.8 v3.6 z" fill="#505050"/>
<rect x="304" y="8" width="1" height="12" fill="#108010"/><rect x="302.5" y="10.5" width="4" height="7" fill="#30d830" stroke="#108010" stroke-width="0.8"/>
<g stroke="#505050" stroke-width="1.2" fill="none"><path d="M326.5 10.5 V24"/><path d="M324 21.5 H337"/></g>
<path d="M326.5 9 l-1.8 2.6 h3.6 z" fill="#505050"/><path d="M338.5 21.5 l-2.6 -1.8 v3.6 z" fill="#505050"/>
<path d="M325.5 19 q5 -9 8 -5 q2 2.5 3.5 3" fill="none" stroke="#209020" stroke-width="1.2"/>
<rect x="347" y="5" width="1" height="21" fill="#a0a0a0"/>
<rect x="348" y="5" width="1" height="21" fill="#ffffff"/>
<path d="M365 17.5 L371 23.5" stroke="#b08818" stroke-width="3" stroke-linecap="round"/>
<path d="M365.3 17.8 L370.6 23.1" stroke="#f0d860" stroke-width="1.2" stroke-linecap="round"/>
<circle cx="362" cy="14" r="5.3" fill="url(#lens)" stroke="#3c86d0" stroke-width="1.3"/>
<rect x="359" y="13.2" width="6" height="1.8" fill="#3878c0"/>
<rect x="361.1" y="11" width="1.8" height="6" fill="#3878c0"/>
<path d="M393 17.5 L399 23.5" stroke="#b08818" stroke-width="3" stroke-linecap="round"/>
<path d="M393.3 17.8 L398.6 23.1" stroke="#f0d860" stroke-width="1.2" stroke-linecap="round"/>
<circle cx="390" cy="14" r="5.3" fill="url(#lens)" stroke="#3c86d0" stroke-width="1.3"/>
<rect x="387" y="13.2" width="6" height="1.8" fill="#3878c0"/>
<rect x="412" y="8" width="8" height="7.8" fill="#40a820" stroke="#208010" stroke-width="0.6"/>
<rect x="413.5" y="11" width="5" height="3.4" fill="#f0f8ff"/>
<rect x="414.3" y="12.4" width="3.4" height="0.9" fill="#40a820"/>
<rect x="420.5" y="8" width="8" height="7.8" fill="#3868e0" stroke="#1838b0" stroke-width="0.6"/>
<rect x="422.0" y="11" width="5" height="3.4" fill="#f0f8ff"/>
<rect x="422.8" y="12.4" width="3.4" height="0.9" fill="#3868e0"/>
<rect x="412" y="16.3" width="8" height="7.8" fill="#3868e0" stroke="#1838b0" stroke-width="0.6"/>
<rect x="413.5" y="19.3" width="5" height="3.4" fill="#f0f8ff"/>
<rect x="414.3" y="20.700000000000003" width="3.4" height="0.9" fill="#3868e0"/>
<rect x="420.5" y="16.3" width="8" height="7.8" fill="#40a820" stroke="#208010" stroke-width="0.6"/>
<rect x="422.0" y="19.3" width="5" height="3.4" fill="#f0f8ff"/>
<rect x="422.8" y="20.700000000000003" width="3.4" height="0.9" fill="#40a820"/>
<rect x="437" y="5" width="1" height="21" fill="#a0a0a0"/>
<rect x="438" y="5" width="1" height="21" fill="#ffffff"/>
<rect x="442" y="4" width="25" height="22" fill="url(#chk)"/>
<rect x="442" y="4" width="25" height="1" fill="#a0a0a0"/>
<rect x="442" y="4" width="1" height="22" fill="#a0a0a0"/>
<rect x="442" y="25" width="25" height="1" fill="#ffffff"/>
<rect x="466" y="4" width="1" height="22" fill="#ffffff"/>
<g stroke="#505050" stroke-width="1.2" fill="none"><path d="M450.5 10.5 V24"/><path d="M448 21.5 H461"/></g>
<path d="M450.5 9 l-1.8 2.6 h3.6 z" fill="#505050"/><path d="M462.5 21.5 l-2.6 -1.8 v3.6 z" fill="#505050"/>
<path d="M455 12.5 l4 3 l-4 3 z" fill="#30c030" stroke="#108010" stroke-width="0.8"/>
<rect x="470" y="4" width="25" height="22" fill="url(#chk)"/>
<rect x="470" y="4" width="25" height="1" fill="#a0a0a0"/>
<rect x="470" y="4" width="1" height="22" fill="#a0a0a0"/>
<rect x="470" y="25" width="25" height="1" fill="#ffffff"/>
<rect x="494" y="4" width="1" height="22" fill="#ffffff"/>
<g stroke="#505050" stroke-width="1.2" fill="none"><path d="M478.5 10.5 V24"/><path d="M476 21.5 H489"/></g>
<path d="M478.5 9 l-1.8 2.6 h3.6 z" fill="#505050"/><path d="M490.5 21.5 l-2.6 -1.8 v3.6 z" fill="#505050"/>
<rect x="484" y="10" width="1" height="10" fill="#2060a0"/>
<path d="M485.5 15.5 h4.5" stroke="#d04010" stroke-width="1.2"/><path d="M485.3 15.5 l2.6 -2 v4 z" fill="#d04010"/>
<rect x="499" y="5" width="1" height="21" fill="#a0a0a0"/>
<rect x="500" y="5" width="1" height="21" fill="#ffffff"/>
<path d="M509.5 8.5 h8 l3.5 3.5 v9.5 h-11.5 z" fill="#fcfcfc" stroke="#808080" stroke-width="1"/>
<path d="M517.5 8.5 v3.5 h3.5" fill="#e0e0e0" stroke="#808080" stroke-width="0.8"/>
<path d="M512 11 v7 M511 12 h1 M511 17 h1" stroke="#707070" stroke-width="0.9" fill="none"/>
<path d="M517.6666666666666 14 h3.6666666666666665 v3.6666666666666665 h3.6666666666666665 v3.6666666666666665 h-3.6666666666666665 v3.6666666666666665 h-3.6666666666666665 v-3.6666666666666665 h-3.6666666666666665 v-3.6666666666666665 h3.6666666666666665 z" fill="url(#grn)" stroke="#108010" stroke-width="0.8"/>
<path d="M530.5 15 h6 l-3 3.5 z" fill="#000"/>
<circle cx="555" cy="16" r="7.3" fill="#f4f8ff" stroke="url(#blu)" stroke-width="2.2"/>
<circle cx="555" cy="16" r="8" fill="none" stroke="#0850b0" stroke-width="0.8"/>
<path d="M555 11.5 V16 H558" stroke="#303030" stroke-width="1.1" fill="none"/>
<path d="M569.5 15 h6 l-3 3.5 z" fill="#000"/>
<rect x="586.5" y="9.5" width="15" height="13" fill="#ffffff" stroke="#3870c8" stroke-width="1.2"/>
<rect x="587" y="10" width="14" height="2" fill="#78a8e8"/>
<rect x="587" y="16.7" width="14" height="1" fill="#3870c8"/>
<path d="M588.5 15 l2.5 -1 l2 0.5 l2.5 -1 l2 0.5 l2 -1" stroke="#b02010" stroke-width="1.1" fill="none"/>
<path d="M589 20.5 l2.5 -0.5 l2 0.5 l2.5 -1.7 l2 1.5 l1.5 0.3" stroke="#209020" stroke-width="1.1" fill="none"/>
<path d="M608.5 15 h6 l-3 3.5 z" fill="#000"/>
<rect x="620" y="3" width="1" height="25" fill="#a0a0a0"/>
<rect x="621" y="3" width="1" height="25" fill="#ffffff"/>
<rect x="624" y="6" width="3" height="1" fill="#a8a8a8"/>
<rect x="624" y="8" width="3" height="1" fill="#a8a8a8"/>
<rect x="624" y="10" width="3" height="1" fill="#a8a8a8"/>
<rect x="624" y="12" width="3" height="1" fill="#a8a8a8"/>
<rect x="624" y="14" width="3" height="1" fill="#a8a8a8"/>
<rect x="624" y="16" width="3" height="1" fill="#a8a8a8"/>
<rect x="624" y="18" width="3" height="1" fill="#a8a8a8"/>
<rect x="624" y="20" width="3" height="1" fill="#a8a8a8"/>
<rect x="624" y="22" width="3" height="1" fill="#a8a8a8"/>
<rect x="624" y="24" width="3" height="1" fill="#a8a8a8"/>
<rect x="630" y="4" width="25" height="22" fill="url(#chk)"/>
<rect x="630" y="4" width="25" height="1" fill="#a0a0a0"/>
<rect x="630" y="4" width="1" height="22" fill="#a0a0a0"/>
<rect x="630" y="25" width="25" height="1" fill="#ffffff"/>
<rect x="654" y="4" width="1" height="22" fill="#ffffff"/>
<path d="M638.2 9 V20 L640.8 17.6 L643 22.8 L644.8 22 L642.6 16.8 L646.2 16.6 Z" fill="#484848"/>
<rect x="670" y="9" width="1" height="15" fill="#484848"/><rect x="663" y="16" width="15" height="1" fill="#484848"/><rect x="670" y="16" width="1" height="1" fill="#f0f0f0"/>
<rect x="687" y="5" width="1" height="21" fill="#a0a0a0"/>
<rect x="688" y="5" width="1" height="21" fill="#ffffff"/>
<rect x="704" y="10" width="1" height="13" fill="#484848"/>
<rect x="727" y="16" width="12" height="1" fill="#484848"/>
<path d="M755 23 L767 10.5" stroke="#484848" stroke-width="1.1"/>
<g stroke="#484848" stroke-width="0.9" fill="none"><path d="M781 18 L794 8.5"/><path d="M782 22.5 L795 13"/><path d="M783.5 20.5 l3 -6.5 M787 18 l3 -6.5 M790.5 15.5 l3 -6.5"/></g>
<text x="791.8" y="25" font-size="6.5" font-weight="bold" fill="#303030">E</text>
<path d="M810 9.5 H823" stroke="#484848" stroke-width="1" stroke-dasharray="1 1"/>
<path d="M810 12.5 H823" stroke="#484848" stroke-width="1" stroke-dasharray="1 1"/>
<path d="M810 16.5 H823" stroke="#484848" stroke-width="1" stroke-dasharray="1 1"/>
<path d="M810 20.5 H823" stroke="#484848" stroke-width="1" stroke-dasharray="1 1"/>
<text x="819.8" y="25" font-size="6.5" font-weight="bold" fill="#303030">F</text>
<text x="845" y="21" font-size="12.5" font-weight="bold" fill="#505050" text-anchor="middle">A</text>
<rect x="867.5" y="10.5" width="11" height="12" fill="none" stroke="#484848" stroke-width="1" stroke-dasharray="1 1"/>
<text x="873" y="21" font-size="10.5" font-weight="bold" fill="#505050" text-anchor="middle">T</text>
<path d="M897.5 10 l3.5 3.5 h-7 z" fill="#484848"/><path d="M904.5 22.5 l3.5 -3.5 h-7 z" fill="#484848"/>
<path d="M896 17 l2 2 l4.5 -5" stroke="#484848" stroke-width="1.2" fill="none"/>
<path d="M914.5 15 h6 l-3 3.5 z" fill="#000"/>
<rect x="926" y="3" width="1" height="25" fill="#a0a0a0"/>
<rect x="927" y="3" width="1" height="25" fill="#ffffff"/>
<rect x="930" y="6" width="3" height="1" fill="#a8a8a8"/>
<rect x="930" y="8" width="3" height="1" fill="#a8a8a8"/>
<rect x="930" y="10" width="3" height="1" fill="#a8a8a8"/>
<rect x="930" y="12" width="3" height="1" fill="#a8a8a8"/>
<rect x="930" y="14" width="3" height="1" fill="#a8a8a8"/>
<rect x="930" y="16" width="3" height="1" fill="#a8a8a8"/>
<rect x="930" y="18" width="3" height="1" fill="#a8a8a8"/>
<rect x="930" y="20" width="3" height="1" fill="#a8a8a8"/>
<rect x="930" y="22" width="3" height="1" fill="#a8a8a8"/>
<rect x="930" y="24" width="3" height="1" fill="#a8a8a8"/>
<text x="948.0" y="20" font-size="9.8" fill="#404040" text-anchor="middle">M1</text>
<text x="976.0" y="20" font-size="9.8" fill="#404040" text-anchor="middle">M5</text>
<text x="1004.1" y="20" font-size="9.8" fill="#404040" text-anchor="middle">M15</text>
<text x="1032.2" y="20" font-size="9.8" fill="#404040" text-anchor="middle">M30</text>
<text x="1060.2" y="20" font-size="9.8" fill="#404040" text-anchor="middle">H1</text>
<rect x="1076" y="4" width="25" height="22" fill="url(#chk)"/>
<rect x="1076" y="4" width="25" height="1" fill="#a0a0a0"/>
<rect x="1076" y="4" width="1" height="22" fill="#a0a0a0"/>
<rect x="1076" y="25" width="25" height="1" fill="#ffffff"/>
<rect x="1100" y="4" width="1" height="22" fill="#ffffff"/>
<text x="1088.2" y="20" font-size="9.8" fill="#404040" text-anchor="middle">H4</text>
<text x="1116.3" y="20" font-size="9.8" fill="#404040" text-anchor="middle">D1</text>
<text x="1144.3" y="20" font-size="9.8" fill="#404040" text-anchor="middle">W1</text>
<text x="1172.4" y="20" font-size="9.8" fill="#404040" text-anchor="middle">MN</text>
<rect x="1187" y="3" width="1" height="25" fill="#a0a0a0"/>
<rect x="1188" y="3" width="1" height="25" fill="#ffffff"/>
<path d="M1650 21 L1654.5 16.5" stroke="#2858c0" stroke-width="2.4" stroke-linecap="round"/>
<circle cx="1657" cy="13.5" r="3.8" fill="#f4f8ff" stroke="#3060d0" stroke-width="1.3"/>
<path d="M1675 14.5 q0 -2 3 -2 h5 q3 0 3 3 v3 q0 3 -3 3 h-4 l-2.5 2.5 v-2.5 q-1.500 -0.500 -1.500 -3 z" fill="#dcdce8" stroke="#b0b0b8" stroke-width="0.8"/>
<circle cx="1688.5" cy="13.3" r="8.1" fill="url(#badge)"/>
<text x="1688.3" y="17.6" font-size="12.5" fill="#ffffff" text-anchor="middle">1</text>
</g>
</svg>
</body>
</html>
